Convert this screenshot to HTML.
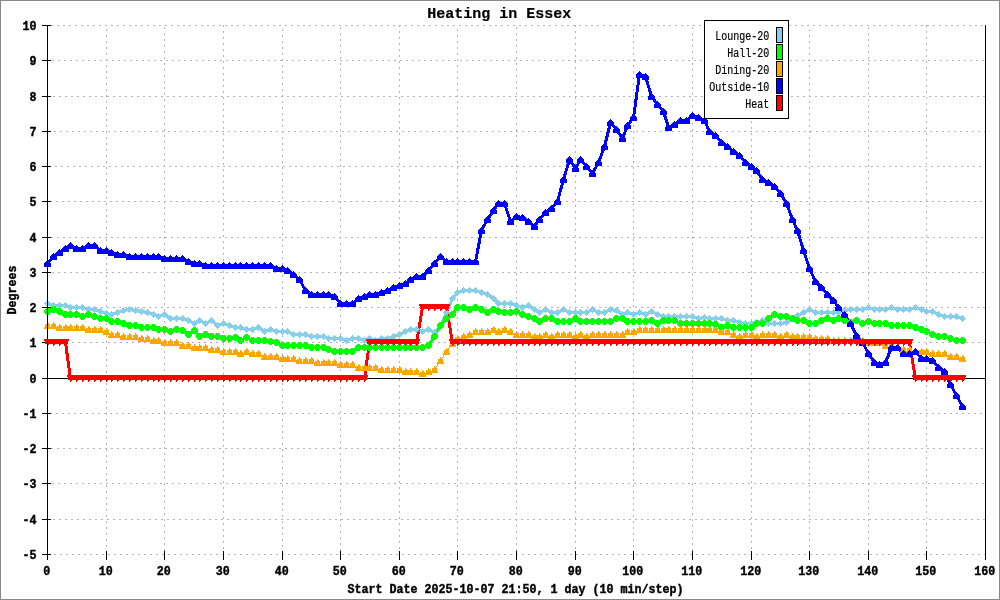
<!DOCTYPE html>
<html><head><meta charset="utf-8"><title>Heating in Essex</title>
<style>
html,body{margin:0;padding:0;background:#fff}
svg{display:block}
text{font-family:"Liberation Mono",monospace;fill:#000}
.mb{font-weight:bold;font-size:12px;stroke:#000;stroke-width:.4px}
.gi{font-weight:bold;font-size:15px;stroke:#000;stroke-width:.2px}
.sm{font-size:12.3px;stroke:#000;stroke-width:.2px}
</style></head><body>
<svg width="1000" height="600" viewBox="0 0 1000 600" shape-rendering="crispEdges">
<rect x="0" y="0" width="1000" height="600" fill="#fff"/>
<rect x="0.5" y="0.5" width="999" height="599" fill="none" stroke="#888" stroke-width="1"/>
<g stroke="#b3b3b3" stroke-width="1" stroke-dasharray="2 4"><line x1="51" x2="985" y1="25.5" y2="25.5"/><line x1="46" x2="985" y1="60.5" y2="60.5"/><line x1="47" x2="985" y1="96.5" y2="96.5"/><line x1="48" x2="985" y1="131.5" y2="131.5"/><line x1="49" x2="985" y1="166.5" y2="166.5"/><line x1="50" x2="985" y1="201.5" y2="201.5"/><line x1="51" x2="985" y1="237.5" y2="237.5"/><line x1="46" x2="985" y1="272.5" y2="272.5"/><line x1="47" x2="985" y1="307.5" y2="307.5"/><line x1="48" x2="985" y1="342.5" y2="342.5"/><line x1="50" x2="985" y1="413.5" y2="413.5"/><line x1="51" x2="985" y1="448.5" y2="448.5"/><line x1="46" x2="985" y1="483.5" y2="483.5"/><line x1="47" x2="985" y1="519.5" y2="519.5"/><line x1="48" x2="985" y1="554.5" y2="554.5"/><line x1="106.5" x2="106.5" y1="29" y2="555"/><line x1="164.5" x2="164.5" y1="27" y2="555"/><line x1="223.5" x2="223.5" y1="25" y2="555"/><line x1="282.5" x2="282.5" y1="29" y2="555"/><line x1="340.5" x2="340.5" y1="27" y2="555"/><line x1="399.5" x2="399.5" y1="25" y2="555"/><line x1="457.5" x2="457.5" y1="29" y2="555"/><line x1="516.5" x2="516.5" y1="27" y2="555"/><line x1="575.5" x2="575.5" y1="25" y2="555"/><line x1="633.5" x2="633.5" y1="29" y2="555"/><line x1="692.5" x2="692.5" y1="27" y2="555"/><line x1="751.5" x2="751.5" y1="25" y2="555"/><line x1="809.5" x2="809.5" y1="29" y2="555"/><line x1="868.5" x2="868.5" y1="27" y2="555"/><line x1="926.5" x2="926.5" y1="25" y2="555"/></g>
<path fill="#000" d="M42 554h9v1h-9zM42 519h9v1h-9zM42 483h9v1h-9zM42 448h9v1h-9zM42 413h9v1h-9zM42 378h9v1h-9zM42 342h9v1h-9zM42 307h9v1h-9zM42 272h9v1h-9zM42 237h9v1h-9zM42 201h9v1h-9zM42 166h9v1h-9zM42 131h9v1h-9zM42 96h9v1h-9zM42 60h9v1h-9zM42 25h9v1h-9zM47 551h1v9h-1zM106 551h1v9h-1zM164 551h1v9h-1zM223 551h1v9h-1zM282 551h1v9h-1zM340 551h1v9h-1zM399 551h1v9h-1zM457 551h1v9h-1zM516 551h1v9h-1zM575 551h1v9h-1zM633 551h1v9h-1zM692 551h1v9h-1zM751 551h1v9h-1zM809 551h1v9h-1zM868 551h1v9h-1zM926 551h1v9h-1zM985 551h1v9h-1zM47 378h939v1h-939z"/>
<polyline points="47.5,303.5 53.5,305.5 59.5,305.5 65.5,305.5 70.5,307.5 76.5,307.5 82.5,307.5 88.5,309.5 94.5,309.5 100.5,311.5 106.5,313.5 111.5,314.5 117.5,312.5 123.5,310.5 129.5,309.5 135.5,310.5 141.5,311.5 147.5,312.5 153.5,314.5 158.5,316.5 164.5,314.5 170.5,318.5 176.5,318.5 182.5,318.5 188.5,320.5 194.5,323.5 199.5,320.5 205.5,323.5 211.5,320.5 217.5,325.5 223.5,323.5 229.5,325.5 235.5,327.5 240.5,327.5 246.5,329.5 252.5,329.5 258.5,327.5 264.5,331.5 270.5,329.5 276.5,331.5 282.5,331.5 287.5,331.5 293.5,334.5 299.5,334.5 305.5,334.5 311.5,336.5 317.5,336.5 323.5,336.5 328.5,338.5 334.5,338.5 340.5,338.5 346.5,340.5 352.5,338.5 358.5,338.5 364.5,340.5 369.5,338.5 375.5,340.5 381.5,338.5 387.5,338.5 393.5,336.5 399.5,334.5 405.5,331.5 410.5,329.5 416.5,329.5 422.5,331.5 428.5,329.5 434.5,332.5 440.5,326.5 446.5,312.5 452.5,298.5 457.5,292.5 463.5,290.5 469.5,290.5 475.5,290.5 481.5,292.5 487.5,294.5 493.5,298.5 498.5,303.5 504.5,303.5 510.5,303.5 516.5,305.5 522.5,307.5 528.5,305.5 534.5,309.5 539.5,312.5 545.5,309.5 551.5,312.5 557.5,312.5 563.5,309.5 569.5,312.5 575.5,312.5 580.5,312.5 586.5,312.5 592.5,309.5 598.5,312.5 604.5,312.5 610.5,309.5 616.5,310.5 622.5,314.5 627.5,312.5 633.5,314.5 639.5,312.5 645.5,314.5 651.5,311.5 657.5,314.5 663.5,316.5 668.5,316.5 674.5,316.5 680.5,316.5 686.5,316.5 692.5,316.5 698.5,318.5 704.5,317.5 709.5,318.5 715.5,318.5 721.5,318.5 727.5,320.5 733.5,320.5 739.5,322.5 745.5,323.5 751.5,323.5 756.5,322.5 762.5,320.5 768.5,323.5 774.5,323.5 780.5,323.5 786.5,322.5 792.5,318.5 797.5,315.5 803.5,312.5 809.5,309.5 815.5,312.5 821.5,312.5 827.5,312.5 833.5,312.5 838.5,312.5 844.5,310.5 850.5,309.5 856.5,309.5 862.5,309.5 868.5,307.5 874.5,309.5 879.5,309.5 885.5,309.5 891.5,307.5 897.5,309.5 903.5,309.5 909.5,309.5 915.5,307.5 921.5,309.5 926.5,311.5 932.5,311.5 938.5,314.5 944.5,316.5 950.5,316.5 956.5,316.5 962.5,318.5" fill="none" stroke="#87ceeb" stroke-width="3" stroke-linejoin="round"/>
<polyline points="47.5,311.5 53.5,309.5 59.5,311.5 65.5,314.5 70.5,314.5 76.5,314.5 82.5,316.5 88.5,314.5 94.5,316.5 100.5,318.5 106.5,318.5 111.5,321.5 117.5,321.5 123.5,323.5 129.5,325.5 135.5,325.5 141.5,327.5 147.5,327.5 153.5,327.5 158.5,329.5 164.5,329.5 170.5,331.5 176.5,329.5 182.5,330.5 188.5,334.5 194.5,330.5 199.5,336.5 205.5,334.5 211.5,336.5 217.5,336.5 223.5,338.5 229.5,338.5 235.5,337.5 240.5,340.5 246.5,337.5 252.5,340.5 258.5,340.5 264.5,340.5 270.5,341.5 276.5,342.5 282.5,345.5 287.5,345.5 293.5,345.5 299.5,345.5 305.5,345.5 311.5,347.5 317.5,347.5 323.5,347.5 328.5,349.5 334.5,351.5 340.5,351.5 346.5,351.5 352.5,351.5 358.5,347.5 364.5,347.5 369.5,347.5 375.5,347.5 381.5,347.5 387.5,347.5 393.5,347.5 399.5,347.5 405.5,347.5 410.5,347.5 416.5,347.5 422.5,347.5 428.5,345.5 434.5,336.5 440.5,325.5 446.5,318.5 452.5,314.5 457.5,307.5 463.5,307.5 469.5,309.5 475.5,307.5 481.5,309.5 487.5,312.5 493.5,309.5 498.5,311.5 504.5,312.5 510.5,312.5 516.5,311.5 522.5,314.5 528.5,316.5 534.5,318.5 539.5,321.5 545.5,318.5 551.5,318.5 557.5,321.5 563.5,321.5 569.5,321.5 575.5,318.5 580.5,321.5 586.5,321.5 592.5,321.5 598.5,321.5 604.5,321.5 610.5,321.5 616.5,318.5 622.5,318.5 627.5,321.5 633.5,321.5 639.5,321.5 645.5,321.5 651.5,320.5 657.5,323.5 663.5,320.5 668.5,320.5 674.5,320.5 680.5,323.5 686.5,323.5 692.5,323.5 698.5,323.5 704.5,323.5 709.5,323.5 715.5,324.5 721.5,327.5 727.5,325.5 733.5,327.5 739.5,327.5 745.5,327.5 751.5,327.5 756.5,323.5 762.5,323.5 768.5,318.5 774.5,314.5 780.5,316.5 786.5,316.5 792.5,318.5 797.5,320.5 803.5,320.5 809.5,323.5 815.5,323.5 821.5,320.5 827.5,318.5 833.5,320.5 838.5,318.5 844.5,320.5 850.5,322.5 856.5,320.5 862.5,323.5 868.5,321.5 874.5,323.5 879.5,323.5 885.5,323.5 891.5,325.5 897.5,325.5 903.5,325.5 909.5,325.5 915.5,327.5 921.5,329.5 926.5,331.5 932.5,334.5 938.5,336.5 944.5,336.5 950.5,338.5 956.5,340.5 962.5,340.5" fill="none" stroke="#00ff00" stroke-width="3" stroke-linejoin="round"/>
<path d="M434.5 369.5L440.5 360.5M440.5 360.5L446.5 351.5M446.5 351.5L452.5 343.5M452.5 343.5L457.5 338.5" fill="none" stroke="#ffa500" stroke-width="1"/>
<polyline points="47.5,263.5 53.5,256.5 59.5,252.5 65.5,248.5 70.5,245.5 76.5,248.5 82.5,248.5 88.5,245.5 94.5,245.5 100.5,250.5 106.5,250.5 111.5,252.5 117.5,254.5 123.5,254.5 129.5,256.5 135.5,256.5 141.5,256.5 147.5,256.5 153.5,256.5 158.5,256.5 164.5,258.5 170.5,258.5 176.5,258.5 182.5,258.5 188.5,261.5 194.5,263.5 199.5,263.5 205.5,265.5 211.5,265.5 217.5,265.5 223.5,265.5 229.5,265.5 235.5,265.5 240.5,265.5 246.5,265.5 252.5,265.5 258.5,265.5 264.5,265.5 270.5,265.5 276.5,268.5 282.5,268.5 287.5,270.5 293.5,274.5 299.5,279.5 305.5,290.5 311.5,294.5 317.5,294.5 323.5,294.5 328.5,294.5 334.5,296.5 340.5,303.5 346.5,303.5 352.5,303.5 358.5,298.5 364.5,296.5 369.5,294.5 375.5,294.5 381.5,292.5 387.5,290.5 393.5,287.5 399.5,285.5 405.5,283.5 410.5,279.5 416.5,276.5 422.5,276.5 428.5,270.5 434.5,263.5 440.5,256.5 446.5,261.5 452.5,261.5 457.5,261.5 463.5,261.5 469.5,261.5 475.5,261.5 481.5,230.5 487.5,219.5 493.5,210.5 498.5,203.5 504.5,203.5 510.5,221.5 516.5,216.5 522.5,217.5 528.5,221.5 534.5,226.5 539.5,219.5 545.5,212.5 551.5,208.5 557.5,201.5 563.5,179.5 569.5,159.5 575.5,168.5 580.5,159.5 586.5,166.5 592.5,173.5 598.5,162.5 604.5,146.5 610.5,122.5 616.5,129.5 622.5,138.5 627.5,125.5 633.5,117.5 639.5,74.5 645.5,76.5 651.5,96.5 657.5,104.5 663.5,111.5 668.5,127.5 674.5,124.5 680.5,120.5 686.5,120.5 692.5,115.5 698.5,117.5 704.5,120.5 709.5,131.5 715.5,135.5 721.5,142.5 727.5,146.5 733.5,151.5 739.5,155.5 745.5,162.5 751.5,166.5 756.5,170.5 762.5,179.5 768.5,182.5 774.5,186.5 780.5,193.5 786.5,203.5 792.5,219.5 797.5,230.5 803.5,250.5 809.5,268.5 815.5,281.5 821.5,287.5 827.5,294.5 833.5,300.5 838.5,307.5 844.5,314.5 850.5,323.5 856.5,335.5 862.5,342.5 868.5,353.5 874.5,362.5 879.5,364.5 885.5,362.5 891.5,347.5 897.5,347.5 903.5,353.5 909.5,353.5 915.5,351.5 921.5,358.5 926.5,358.5 932.5,360.5 938.5,367.5 944.5,371.5 950.5,384.5 956.5,395.5 962.5,406.5" fill="none" stroke="#0000ff" stroke-width="3" stroke-linejoin="round"/>
<polyline points="47.5,342.5 53.5,342.5 59.5,342.5 65.5,342.5 70.5,378.5 76.5,378.5 82.5,378.5 88.5,378.5 94.5,378.5 100.5,378.5 106.5,378.5 111.5,378.5 117.5,378.5 123.5,378.5 129.5,378.5 135.5,378.5 141.5,378.5 147.5,378.5 153.5,378.5 158.5,378.5 164.5,378.5 170.5,378.5 176.5,378.5 182.5,378.5 188.5,378.5 194.5,378.5 199.5,378.5 205.5,378.5 211.5,378.5 217.5,378.5 223.5,378.5 229.5,378.5 235.5,378.5 240.5,378.5 246.5,378.5 252.5,378.5 258.5,378.5 264.5,378.5 270.5,378.5 276.5,378.5 282.5,378.5 287.5,378.5 293.5,378.5 299.5,378.5 305.5,378.5 311.5,378.5 317.5,378.5 323.5,378.5 328.5,378.5 334.5,378.5 340.5,378.5 346.5,378.5 352.5,378.5 358.5,378.5 364.5,378.5 369.5,342.5 375.5,342.5 381.5,342.5 387.5,342.5 393.5,342.5 399.5,342.5 405.5,342.5 410.5,342.5 416.5,342.5 422.5,307.5 428.5,307.5 434.5,307.5 440.5,307.5 446.5,307.5 452.5,342.5 457.5,342.5 463.5,342.5 469.5,342.5 475.5,342.5 481.5,342.5 487.5,342.5 493.5,342.5 498.5,342.5 504.5,342.5 510.5,342.5 516.5,342.5 522.5,342.5 528.5,342.5 534.5,342.5 539.5,342.5 545.5,342.5 551.5,342.5 557.5,342.5 563.5,342.5 569.5,342.5 575.5,342.5 580.5,342.5 586.5,342.5 592.5,342.5 598.5,342.5 604.5,342.5 610.5,342.5 616.5,342.5 622.5,342.5 627.5,342.5 633.5,342.5 639.5,342.5 645.5,342.5 651.5,342.5 657.5,342.5 663.5,342.5 668.5,342.5 674.5,342.5 680.5,342.5 686.5,342.5 692.5,342.5 698.5,342.5 704.5,342.5 709.5,342.5 715.5,342.5 721.5,342.5 727.5,342.5 733.5,342.5 739.5,342.5 745.5,342.5 751.5,342.5 756.5,342.5 762.5,342.5 768.5,342.5 774.5,342.5 780.5,342.5 786.5,342.5 792.5,342.5 797.5,342.5 803.5,342.5 809.5,342.5 815.5,342.5 821.5,342.5 827.5,342.5 833.5,342.5 838.5,342.5 844.5,342.5 850.5,342.5 856.5,342.5 862.5,342.5 868.5,342.5 874.5,342.5 879.5,342.5 885.5,342.5 891.5,342.5 897.5,342.5 903.5,342.5 909.5,342.5 915.5,378.5 921.5,378.5 926.5,378.5 932.5,378.5 938.5,378.5 944.5,378.5 950.5,378.5 956.5,378.5 962.5,378.5" fill="none" stroke="#ff0000" stroke-width="3" stroke-linejoin="round"/>
<path fill="#87ceeb" d="M47 300h1v1h-1zM46 301h3v1h-3zM45 302h5v1h-5zM44 303h7v1h-7zM45 304h5v1h-5zM46 305h3v1h-3zM47 306h1v1h-1zM53 302h1v1h-1zM52 303h3v1h-3zM51 304h5v1h-5zM50 305h7v1h-7zM51 306h5v1h-5zM52 307h3v1h-3zM53 308h1v1h-1zM59 302h1v1h-1zM58 303h3v1h-3zM57 304h5v1h-5zM56 305h7v1h-7zM57 306h5v1h-5zM58 307h3v1h-3zM59 308h1v1h-1zM65 302h1v1h-1zM64 303h3v1h-3zM63 304h5v1h-5zM62 305h7v1h-7zM63 306h5v1h-5zM64 307h3v1h-3zM65 308h1v1h-1zM70 304h1v1h-1zM69 305h3v1h-3zM68 306h5v1h-5zM67 307h7v1h-7zM68 308h5v1h-5zM69 309h3v1h-3zM70 310h1v1h-1zM76 304h1v1h-1zM75 305h3v1h-3zM74 306h5v1h-5zM73 307h7v1h-7zM74 308h5v1h-5zM75 309h3v1h-3zM76 310h1v1h-1zM82 304h1v1h-1zM81 305h3v1h-3zM80 306h5v1h-5zM79 307h7v1h-7zM80 308h5v1h-5zM81 309h3v1h-3zM82 310h1v1h-1zM88 306h1v1h-1zM87 307h3v1h-3zM86 308h5v1h-5zM85 309h7v1h-7zM86 310h5v1h-5zM87 311h3v1h-3zM88 312h1v1h-1zM94 306h1v1h-1zM93 307h3v1h-3zM92 308h5v1h-5zM91 309h7v1h-7zM92 310h5v1h-5zM93 311h3v1h-3zM94 312h1v1h-1zM100 308h1v1h-1zM99 309h3v1h-3zM98 310h5v1h-5zM97 311h7v1h-7zM98 312h5v1h-5zM99 313h3v1h-3zM100 314h1v1h-1zM106 310h1v1h-1zM105 311h3v1h-3zM104 312h5v1h-5zM103 313h7v1h-7zM104 314h5v1h-5zM105 315h3v1h-3zM106 316h1v1h-1zM111 311h1v1h-1zM110 312h3v1h-3zM109 313h5v1h-5zM108 314h7v1h-7zM109 315h5v1h-5zM110 316h3v1h-3zM111 317h1v1h-1zM117 309h1v1h-1zM116 310h3v1h-3zM115 311h5v1h-5zM114 312h7v1h-7zM115 313h5v1h-5zM116 314h3v1h-3zM117 315h1v1h-1zM123 307h1v1h-1zM122 308h3v1h-3zM121 309h5v1h-5zM120 310h7v1h-7zM121 311h5v1h-5zM122 312h3v1h-3zM123 313h1v1h-1zM129 306h1v1h-1zM128 307h3v1h-3zM127 308h5v1h-5zM126 309h7v1h-7zM127 310h5v1h-5zM128 311h3v1h-3zM129 312h1v1h-1zM135 307h1v1h-1zM134 308h3v1h-3zM133 309h5v1h-5zM132 310h7v1h-7zM133 311h5v1h-5zM134 312h3v1h-3zM135 313h1v1h-1zM141 308h1v1h-1zM140 309h3v1h-3zM139 310h5v1h-5zM138 311h7v1h-7zM139 312h5v1h-5zM140 313h3v1h-3zM141 314h1v1h-1zM147 309h1v1h-1zM146 310h3v1h-3zM145 311h5v1h-5zM144 312h7v1h-7zM145 313h5v1h-5zM146 314h3v1h-3zM147 315h1v1h-1zM153 311h1v1h-1zM152 312h3v1h-3zM151 313h5v1h-5zM150 314h7v1h-7zM151 315h5v1h-5zM152 316h3v1h-3zM153 317h1v1h-1zM158 313h1v1h-1zM157 314h3v1h-3zM156 315h5v1h-5zM155 316h7v1h-7zM156 317h5v1h-5zM157 318h3v1h-3zM158 319h1v1h-1zM164 311h1v1h-1zM163 312h3v1h-3zM162 313h5v1h-5zM161 314h7v1h-7zM162 315h5v1h-5zM163 316h3v1h-3zM164 317h1v1h-1zM170 315h1v1h-1zM169 316h3v1h-3zM168 317h5v1h-5zM167 318h7v1h-7zM168 319h5v1h-5zM169 320h3v1h-3zM170 321h1v1h-1zM176 315h1v1h-1zM175 316h3v1h-3zM174 317h5v1h-5zM173 318h7v1h-7zM174 319h5v1h-5zM175 320h3v1h-3zM176 321h1v1h-1zM182 315h1v1h-1zM181 316h3v1h-3zM180 317h5v1h-5zM179 318h7v1h-7zM180 319h5v1h-5zM181 320h3v1h-3zM182 321h1v1h-1zM188 317h1v1h-1zM187 318h3v1h-3zM186 319h5v1h-5zM185 320h7v1h-7zM186 321h5v1h-5zM187 322h3v1h-3zM188 323h1v1h-1zM194 320h1v1h-1zM193 321h3v1h-3zM192 322h5v1h-5zM191 323h7v1h-7zM192 324h5v1h-5zM193 325h3v1h-3zM194 326h1v1h-1zM199 317h1v1h-1zM198 318h3v1h-3zM197 319h5v1h-5zM196 320h7v1h-7zM197 321h5v1h-5zM198 322h3v1h-3zM199 323h1v1h-1zM205 320h1v1h-1zM204 321h3v1h-3zM203 322h5v1h-5zM202 323h7v1h-7zM203 324h5v1h-5zM204 325h3v1h-3zM205 326h1v1h-1zM211 317h1v1h-1zM210 318h3v1h-3zM209 319h5v1h-5zM208 320h7v1h-7zM209 321h5v1h-5zM210 322h3v1h-3zM211 323h1v1h-1zM217 322h1v1h-1zM216 323h3v1h-3zM215 324h5v1h-5zM214 325h7v1h-7zM215 326h5v1h-5zM216 327h3v1h-3zM217 328h1v1h-1zM223 320h1v1h-1zM222 321h3v1h-3zM221 322h5v1h-5zM220 323h7v1h-7zM221 324h5v1h-5zM222 325h3v1h-3zM223 326h1v1h-1zM229 322h1v1h-1zM228 323h3v1h-3zM227 324h5v1h-5zM226 325h7v1h-7zM227 326h5v1h-5zM228 327h3v1h-3zM229 328h1v1h-1zM235 324h1v1h-1zM234 325h3v1h-3zM233 326h5v1h-5zM232 327h7v1h-7zM233 328h5v1h-5zM234 329h3v1h-3zM235 330h1v1h-1zM240 324h1v1h-1zM239 325h3v1h-3zM238 326h5v1h-5zM237 327h7v1h-7zM238 328h5v1h-5zM239 329h3v1h-3zM240 330h1v1h-1zM246 326h1v1h-1zM245 327h3v1h-3zM244 328h5v1h-5zM243 329h7v1h-7zM244 330h5v1h-5zM245 331h3v1h-3zM246 332h1v1h-1zM252 326h1v1h-1zM251 327h3v1h-3zM250 328h5v1h-5zM249 329h7v1h-7zM250 330h5v1h-5zM251 331h3v1h-3zM252 332h1v1h-1zM258 324h1v1h-1zM257 325h3v1h-3zM256 326h5v1h-5zM255 327h7v1h-7zM256 328h5v1h-5zM257 329h3v1h-3zM258 330h1v1h-1zM264 328h1v1h-1zM263 329h3v1h-3zM262 330h5v1h-5zM261 331h7v1h-7zM262 332h5v1h-5zM263 333h3v1h-3zM264 334h1v1h-1zM270 326h1v1h-1zM269 327h3v1h-3zM268 328h5v1h-5zM267 329h7v1h-7zM268 330h5v1h-5zM269 331h3v1h-3zM270 332h1v1h-1zM276 328h1v1h-1zM275 329h3v1h-3zM274 330h5v1h-5zM273 331h7v1h-7zM274 332h5v1h-5zM275 333h3v1h-3zM276 334h1v1h-1zM282 328h1v1h-1zM281 329h3v1h-3zM280 330h5v1h-5zM279 331h7v1h-7zM280 332h5v1h-5zM281 333h3v1h-3zM282 334h1v1h-1zM287 328h1v1h-1zM286 329h3v1h-3zM285 330h5v1h-5zM284 331h7v1h-7zM285 332h5v1h-5zM286 333h3v1h-3zM287 334h1v1h-1zM293 331h1v1h-1zM292 332h3v1h-3zM291 333h5v1h-5zM290 334h7v1h-7zM291 335h5v1h-5zM292 336h3v1h-3zM293 337h1v1h-1zM299 331h1v1h-1zM298 332h3v1h-3zM297 333h5v1h-5zM296 334h7v1h-7zM297 335h5v1h-5zM298 336h3v1h-3zM299 337h1v1h-1zM305 331h1v1h-1zM304 332h3v1h-3zM303 333h5v1h-5zM302 334h7v1h-7zM303 335h5v1h-5zM304 336h3v1h-3zM305 337h1v1h-1zM311 333h1v1h-1zM310 334h3v1h-3zM309 335h5v1h-5zM308 336h7v1h-7zM309 337h5v1h-5zM310 338h3v1h-3zM311 339h1v1h-1zM317 333h1v1h-1zM316 334h3v1h-3zM315 335h5v1h-5zM314 336h7v1h-7zM315 337h5v1h-5zM316 338h3v1h-3zM317 339h1v1h-1zM323 333h1v1h-1zM322 334h3v1h-3zM321 335h5v1h-5zM320 336h7v1h-7zM321 337h5v1h-5zM322 338h3v1h-3zM323 339h1v1h-1zM328 335h1v1h-1zM327 336h3v1h-3zM326 337h5v1h-5zM325 338h7v1h-7zM326 339h5v1h-5zM327 340h3v1h-3zM328 341h1v1h-1zM334 335h1v1h-1zM333 336h3v1h-3zM332 337h5v1h-5zM331 338h7v1h-7zM332 339h5v1h-5zM333 340h3v1h-3zM334 341h1v1h-1zM340 335h1v1h-1zM339 336h3v1h-3zM338 337h5v1h-5zM337 338h7v1h-7zM338 339h5v1h-5zM339 340h3v1h-3zM340 341h1v1h-1zM346 337h1v1h-1zM345 338h3v1h-3zM344 339h5v1h-5zM343 340h7v1h-7zM344 341h5v1h-5zM345 342h3v1h-3zM346 343h1v1h-1zM352 335h1v1h-1zM351 336h3v1h-3zM350 337h5v1h-5zM349 338h7v1h-7zM350 339h5v1h-5zM351 340h3v1h-3zM352 341h1v1h-1zM358 335h1v1h-1zM357 336h3v1h-3zM356 337h5v1h-5zM355 338h7v1h-7zM356 339h5v1h-5zM357 340h3v1h-3zM358 341h1v1h-1zM364 337h1v1h-1zM363 338h3v1h-3zM362 339h5v1h-5zM361 340h7v1h-7zM362 341h5v1h-5zM363 342h3v1h-3zM364 343h1v1h-1zM369 335h1v1h-1zM368 336h3v1h-3zM367 337h5v1h-5zM366 338h7v1h-7zM367 339h5v1h-5zM368 340h3v1h-3zM369 341h1v1h-1zM375 337h1v1h-1zM374 338h3v1h-3zM373 339h5v1h-5zM372 340h7v1h-7zM373 341h5v1h-5zM374 342h3v1h-3zM375 343h1v1h-1zM381 335h1v1h-1zM380 336h3v1h-3zM379 337h5v1h-5zM378 338h7v1h-7zM379 339h5v1h-5zM380 340h3v1h-3zM381 341h1v1h-1zM387 335h1v1h-1zM386 336h3v1h-3zM385 337h5v1h-5zM384 338h7v1h-7zM385 339h5v1h-5zM386 340h3v1h-3zM387 341h1v1h-1zM393 333h1v1h-1zM392 334h3v1h-3zM391 335h5v1h-5zM390 336h7v1h-7zM391 337h5v1h-5zM392 338h3v1h-3zM393 339h1v1h-1zM399 331h1v1h-1zM398 332h3v1h-3zM397 333h5v1h-5zM396 334h7v1h-7zM397 335h5v1h-5zM398 336h3v1h-3zM399 337h1v1h-1zM405 328h1v1h-1zM404 329h3v1h-3zM403 330h5v1h-5zM402 331h7v1h-7zM403 332h5v1h-5zM404 333h3v1h-3zM405 334h1v1h-1zM410 326h1v1h-1zM409 327h3v1h-3zM408 328h5v1h-5zM407 329h7v1h-7zM408 330h5v1h-5zM409 331h3v1h-3zM410 332h1v1h-1zM416 326h1v1h-1zM415 327h3v1h-3zM414 328h5v1h-5zM413 329h7v1h-7zM414 330h5v1h-5zM415 331h3v1h-3zM416 332h1v1h-1zM422 328h1v1h-1zM421 329h3v1h-3zM420 330h5v1h-5zM419 331h7v1h-7zM420 332h5v1h-5zM421 333h3v1h-3zM422 334h1v1h-1zM428 326h1v1h-1zM427 327h3v1h-3zM426 328h5v1h-5zM425 329h7v1h-7zM426 330h5v1h-5zM427 331h3v1h-3zM428 332h1v1h-1zM434 329h1v1h-1zM433 330h3v1h-3zM432 331h5v1h-5zM431 332h7v1h-7zM432 333h5v1h-5zM433 334h3v1h-3zM434 335h1v1h-1zM440 323h1v1h-1zM439 324h3v1h-3zM438 325h5v1h-5zM437 326h7v1h-7zM438 327h5v1h-5zM439 328h3v1h-3zM440 329h1v1h-1zM446 309h1v1h-1zM445 310h3v1h-3zM444 311h5v1h-5zM443 312h7v1h-7zM444 313h5v1h-5zM445 314h3v1h-3zM446 315h1v1h-1zM452 295h1v1h-1zM451 296h3v1h-3zM450 297h5v1h-5zM449 298h7v1h-7zM450 299h5v1h-5zM451 300h3v1h-3zM452 301h1v1h-1zM457 289h1v1h-1zM456 290h3v1h-3zM455 291h5v1h-5zM454 292h7v1h-7zM455 293h5v1h-5zM456 294h3v1h-3zM457 295h1v1h-1zM463 287h1v1h-1zM462 288h3v1h-3zM461 289h5v1h-5zM460 290h7v1h-7zM461 291h5v1h-5zM462 292h3v1h-3zM463 293h1v1h-1zM469 287h1v1h-1zM468 288h3v1h-3zM467 289h5v1h-5zM466 290h7v1h-7zM467 291h5v1h-5zM468 292h3v1h-3zM469 293h1v1h-1zM475 287h1v1h-1zM474 288h3v1h-3zM473 289h5v1h-5zM472 290h7v1h-7zM473 291h5v1h-5zM474 292h3v1h-3zM475 293h1v1h-1zM481 289h1v1h-1zM480 290h3v1h-3zM479 291h5v1h-5zM478 292h7v1h-7zM479 293h5v1h-5zM480 294h3v1h-3zM481 295h1v1h-1zM487 291h1v1h-1zM486 292h3v1h-3zM485 293h5v1h-5zM484 294h7v1h-7zM485 295h5v1h-5zM486 296h3v1h-3zM487 297h1v1h-1zM493 295h1v1h-1zM492 296h3v1h-3zM491 297h5v1h-5zM490 298h7v1h-7zM491 299h5v1h-5zM492 300h3v1h-3zM493 301h1v1h-1zM498 300h1v1h-1zM497 301h3v1h-3zM496 302h5v1h-5zM495 303h7v1h-7zM496 304h5v1h-5zM497 305h3v1h-3zM498 306h1v1h-1zM504 300h1v1h-1zM503 301h3v1h-3zM502 302h5v1h-5zM501 303h7v1h-7zM502 304h5v1h-5zM503 305h3v1h-3zM504 306h1v1h-1zM510 300h1v1h-1zM509 301h3v1h-3zM508 302h5v1h-5zM507 303h7v1h-7zM508 304h5v1h-5zM509 305h3v1h-3zM510 306h1v1h-1zM516 302h1v1h-1zM515 303h3v1h-3zM514 304h5v1h-5zM513 305h7v1h-7zM514 306h5v1h-5zM515 307h3v1h-3zM516 308h1v1h-1zM522 304h1v1h-1zM521 305h3v1h-3zM520 306h5v1h-5zM519 307h7v1h-7zM520 308h5v1h-5zM521 309h3v1h-3zM522 310h1v1h-1zM528 302h1v1h-1zM527 303h3v1h-3zM526 304h5v1h-5zM525 305h7v1h-7zM526 306h5v1h-5zM527 307h3v1h-3zM528 308h1v1h-1zM534 306h1v1h-1zM533 307h3v1h-3zM532 308h5v1h-5zM531 309h7v1h-7zM532 310h5v1h-5zM533 311h3v1h-3zM534 312h1v1h-1zM539 309h1v1h-1zM538 310h3v1h-3zM537 311h5v1h-5zM536 312h7v1h-7zM537 313h5v1h-5zM538 314h3v1h-3zM539 315h1v1h-1zM545 306h1v1h-1zM544 307h3v1h-3zM543 308h5v1h-5zM542 309h7v1h-7zM543 310h5v1h-5zM544 311h3v1h-3zM545 312h1v1h-1zM551 309h1v1h-1zM550 310h3v1h-3zM549 311h5v1h-5zM548 312h7v1h-7zM549 313h5v1h-5zM550 314h3v1h-3zM551 315h1v1h-1zM557 309h1v1h-1zM556 310h3v1h-3zM555 311h5v1h-5zM554 312h7v1h-7zM555 313h5v1h-5zM556 314h3v1h-3zM557 315h1v1h-1zM563 306h1v1h-1zM562 307h3v1h-3zM561 308h5v1h-5zM560 309h7v1h-7zM561 310h5v1h-5zM562 311h3v1h-3zM563 312h1v1h-1zM569 309h1v1h-1zM568 310h3v1h-3zM567 311h5v1h-5zM566 312h7v1h-7zM567 313h5v1h-5zM568 314h3v1h-3zM569 315h1v1h-1zM575 309h1v1h-1zM574 310h3v1h-3zM573 311h5v1h-5zM572 312h7v1h-7zM573 313h5v1h-5zM574 314h3v1h-3zM575 315h1v1h-1zM580 309h1v1h-1zM579 310h3v1h-3zM578 311h5v1h-5zM577 312h7v1h-7zM578 313h5v1h-5zM579 314h3v1h-3zM580 315h1v1h-1zM586 309h1v1h-1zM585 310h3v1h-3zM584 311h5v1h-5zM583 312h7v1h-7zM584 313h5v1h-5zM585 314h3v1h-3zM586 315h1v1h-1zM592 306h1v1h-1zM591 307h3v1h-3zM590 308h5v1h-5zM589 309h7v1h-7zM590 310h5v1h-5zM591 311h3v1h-3zM592 312h1v1h-1zM598 309h1v1h-1zM597 310h3v1h-3zM596 311h5v1h-5zM595 312h7v1h-7zM596 313h5v1h-5zM597 314h3v1h-3zM598 315h1v1h-1zM604 309h1v1h-1zM603 310h3v1h-3zM602 311h5v1h-5zM601 312h7v1h-7zM602 313h5v1h-5zM603 314h3v1h-3zM604 315h1v1h-1zM610 306h1v1h-1zM609 307h3v1h-3zM608 308h5v1h-5zM607 309h7v1h-7zM608 310h5v1h-5zM609 311h3v1h-3zM610 312h1v1h-1zM616 307h1v1h-1zM615 308h3v1h-3zM614 309h5v1h-5zM613 310h7v1h-7zM614 311h5v1h-5zM615 312h3v1h-3zM616 313h1v1h-1zM622 311h1v1h-1zM621 312h3v1h-3zM620 313h5v1h-5zM619 314h7v1h-7zM620 315h5v1h-5zM621 316h3v1h-3zM622 317h1v1h-1zM627 309h1v1h-1zM626 310h3v1h-3zM625 311h5v1h-5zM624 312h7v1h-7zM625 313h5v1h-5zM626 314h3v1h-3zM627 315h1v1h-1zM633 311h1v1h-1zM632 312h3v1h-3zM631 313h5v1h-5zM630 314h7v1h-7zM631 315h5v1h-5zM632 316h3v1h-3zM633 317h1v1h-1zM639 309h1v1h-1zM638 310h3v1h-3zM637 311h5v1h-5zM636 312h7v1h-7zM637 313h5v1h-5zM638 314h3v1h-3zM639 315h1v1h-1zM645 311h1v1h-1zM644 312h3v1h-3zM643 313h5v1h-5zM642 314h7v1h-7zM643 315h5v1h-5zM644 316h3v1h-3zM645 317h1v1h-1zM651 308h1v1h-1zM650 309h3v1h-3zM649 310h5v1h-5zM648 311h7v1h-7zM649 312h5v1h-5zM650 313h3v1h-3zM651 314h1v1h-1zM657 311h1v1h-1zM656 312h3v1h-3zM655 313h5v1h-5zM654 314h7v1h-7zM655 315h5v1h-5zM656 316h3v1h-3zM657 317h1v1h-1zM663 313h1v1h-1zM662 314h3v1h-3zM661 315h5v1h-5zM660 316h7v1h-7zM661 317h5v1h-5zM662 318h3v1h-3zM663 319h1v1h-1zM668 313h1v1h-1zM667 314h3v1h-3zM666 315h5v1h-5zM665 316h7v1h-7zM666 317h5v1h-5zM667 318h3v1h-3zM668 319h1v1h-1zM674 313h1v1h-1zM673 314h3v1h-3zM672 315h5v1h-5zM671 316h7v1h-7zM672 317h5v1h-5zM673 318h3v1h-3zM674 319h1v1h-1zM680 313h1v1h-1zM679 314h3v1h-3zM678 315h5v1h-5zM677 316h7v1h-7zM678 317h5v1h-5zM679 318h3v1h-3zM680 319h1v1h-1zM686 313h1v1h-1zM685 314h3v1h-3zM684 315h5v1h-5zM683 316h7v1h-7zM684 317h5v1h-5zM685 318h3v1h-3zM686 319h1v1h-1zM692 313h1v1h-1zM691 314h3v1h-3zM690 315h5v1h-5zM689 316h7v1h-7zM690 317h5v1h-5zM691 318h3v1h-3zM692 319h1v1h-1zM698 315h1v1h-1zM697 316h3v1h-3zM696 317h5v1h-5zM695 318h7v1h-7zM696 319h5v1h-5zM697 320h3v1h-3zM698 321h1v1h-1zM704 314h1v1h-1zM703 315h3v1h-3zM702 316h5v1h-5zM701 317h7v1h-7zM702 318h5v1h-5zM703 319h3v1h-3zM704 320h1v1h-1zM709 315h1v1h-1zM708 316h3v1h-3zM707 317h5v1h-5zM706 318h7v1h-7zM707 319h5v1h-5zM708 320h3v1h-3zM709 321h1v1h-1zM715 315h1v1h-1zM714 316h3v1h-3zM713 317h5v1h-5zM712 318h7v1h-7zM713 319h5v1h-5zM714 320h3v1h-3zM715 321h1v1h-1zM721 315h1v1h-1zM720 316h3v1h-3zM719 317h5v1h-5zM718 318h7v1h-7zM719 319h5v1h-5zM720 320h3v1h-3zM721 321h1v1h-1zM727 317h1v1h-1zM726 318h3v1h-3zM725 319h5v1h-5zM724 320h7v1h-7zM725 321h5v1h-5zM726 322h3v1h-3zM727 323h1v1h-1zM733 317h1v1h-1zM732 318h3v1h-3zM731 319h5v1h-5zM730 320h7v1h-7zM731 321h5v1h-5zM732 322h3v1h-3zM733 323h1v1h-1zM739 319h1v1h-1zM738 320h3v1h-3zM737 321h5v1h-5zM736 322h7v1h-7zM737 323h5v1h-5zM738 324h3v1h-3zM739 325h1v1h-1zM745 320h1v1h-1zM744 321h3v1h-3zM743 322h5v1h-5zM742 323h7v1h-7zM743 324h5v1h-5zM744 325h3v1h-3zM745 326h1v1h-1zM751 320h1v1h-1zM750 321h3v1h-3zM749 322h5v1h-5zM748 323h7v1h-7zM749 324h5v1h-5zM750 325h3v1h-3zM751 326h1v1h-1zM756 319h1v1h-1zM755 320h3v1h-3zM754 321h5v1h-5zM753 322h7v1h-7zM754 323h5v1h-5zM755 324h3v1h-3zM756 325h1v1h-1zM762 317h1v1h-1zM761 318h3v1h-3zM760 319h5v1h-5zM759 320h7v1h-7zM760 321h5v1h-5zM761 322h3v1h-3zM762 323h1v1h-1zM768 320h1v1h-1zM767 321h3v1h-3zM766 322h5v1h-5zM765 323h7v1h-7zM766 324h5v1h-5zM767 325h3v1h-3zM768 326h1v1h-1zM774 320h1v1h-1zM773 321h3v1h-3zM772 322h5v1h-5zM771 323h7v1h-7zM772 324h5v1h-5zM773 325h3v1h-3zM774 326h1v1h-1zM780 320h1v1h-1zM779 321h3v1h-3zM778 322h5v1h-5zM777 323h7v1h-7zM778 324h5v1h-5zM779 325h3v1h-3zM780 326h1v1h-1zM786 319h1v1h-1zM785 320h3v1h-3zM784 321h5v1h-5zM783 322h7v1h-7zM784 323h5v1h-5zM785 324h3v1h-3zM786 325h1v1h-1zM792 315h1v1h-1zM791 316h3v1h-3zM790 317h5v1h-5zM789 318h7v1h-7zM790 319h5v1h-5zM791 320h3v1h-3zM792 321h1v1h-1zM797 312h1v1h-1zM796 313h3v1h-3zM795 314h5v1h-5zM794 315h7v1h-7zM795 316h5v1h-5zM796 317h3v1h-3zM797 318h1v1h-1zM803 309h1v1h-1zM802 310h3v1h-3zM801 311h5v1h-5zM800 312h7v1h-7zM801 313h5v1h-5zM802 314h3v1h-3zM803 315h1v1h-1zM809 306h1v1h-1zM808 307h3v1h-3zM807 308h5v1h-5zM806 309h7v1h-7zM807 310h5v1h-5zM808 311h3v1h-3zM809 312h1v1h-1zM815 309h1v1h-1zM814 310h3v1h-3zM813 311h5v1h-5zM812 312h7v1h-7zM813 313h5v1h-5zM814 314h3v1h-3zM815 315h1v1h-1zM821 309h1v1h-1zM820 310h3v1h-3zM819 311h5v1h-5zM818 312h7v1h-7zM819 313h5v1h-5zM820 314h3v1h-3zM821 315h1v1h-1zM827 309h1v1h-1zM826 310h3v1h-3zM825 311h5v1h-5zM824 312h7v1h-7zM825 313h5v1h-5zM826 314h3v1h-3zM827 315h1v1h-1zM833 309h1v1h-1zM832 310h3v1h-3zM831 311h5v1h-5zM830 312h7v1h-7zM831 313h5v1h-5zM832 314h3v1h-3zM833 315h1v1h-1zM838 309h1v1h-1zM837 310h3v1h-3zM836 311h5v1h-5zM835 312h7v1h-7zM836 313h5v1h-5zM837 314h3v1h-3zM838 315h1v1h-1zM844 307h1v1h-1zM843 308h3v1h-3zM842 309h5v1h-5zM841 310h7v1h-7zM842 311h5v1h-5zM843 312h3v1h-3zM844 313h1v1h-1zM850 306h1v1h-1zM849 307h3v1h-3zM848 308h5v1h-5zM847 309h7v1h-7zM848 310h5v1h-5zM849 311h3v1h-3zM850 312h1v1h-1zM856 306h1v1h-1zM855 307h3v1h-3zM854 308h5v1h-5zM853 309h7v1h-7zM854 310h5v1h-5zM855 311h3v1h-3zM856 312h1v1h-1zM862 306h1v1h-1zM861 307h3v1h-3zM860 308h5v1h-5zM859 309h7v1h-7zM860 310h5v1h-5zM861 311h3v1h-3zM862 312h1v1h-1zM868 304h1v1h-1zM867 305h3v1h-3zM866 306h5v1h-5zM865 307h7v1h-7zM866 308h5v1h-5zM867 309h3v1h-3zM868 310h1v1h-1zM874 306h1v1h-1zM873 307h3v1h-3zM872 308h5v1h-5zM871 309h7v1h-7zM872 310h5v1h-5zM873 311h3v1h-3zM874 312h1v1h-1zM879 306h1v1h-1zM878 307h3v1h-3zM877 308h5v1h-5zM876 309h7v1h-7zM877 310h5v1h-5zM878 311h3v1h-3zM879 312h1v1h-1zM885 306h1v1h-1zM884 307h3v1h-3zM883 308h5v1h-5zM882 309h7v1h-7zM883 310h5v1h-5zM884 311h3v1h-3zM885 312h1v1h-1zM891 304h1v1h-1zM890 305h3v1h-3zM889 306h5v1h-5zM888 307h7v1h-7zM889 308h5v1h-5zM890 309h3v1h-3zM891 310h1v1h-1zM897 306h1v1h-1zM896 307h3v1h-3zM895 308h5v1h-5zM894 309h7v1h-7zM895 310h5v1h-5zM896 311h3v1h-3zM897 312h1v1h-1zM903 306h1v1h-1zM902 307h3v1h-3zM901 308h5v1h-5zM900 309h7v1h-7zM901 310h5v1h-5zM902 311h3v1h-3zM903 312h1v1h-1zM909 306h1v1h-1zM908 307h3v1h-3zM907 308h5v1h-5zM906 309h7v1h-7zM907 310h5v1h-5zM908 311h3v1h-3zM909 312h1v1h-1zM915 304h1v1h-1zM914 305h3v1h-3zM913 306h5v1h-5zM912 307h7v1h-7zM913 308h5v1h-5zM914 309h3v1h-3zM915 310h1v1h-1zM921 306h1v1h-1zM920 307h3v1h-3zM919 308h5v1h-5zM918 309h7v1h-7zM919 310h5v1h-5zM920 311h3v1h-3zM921 312h1v1h-1zM926 308h1v1h-1zM925 309h3v1h-3zM924 310h5v1h-5zM923 311h7v1h-7zM924 312h5v1h-5zM925 313h3v1h-3zM926 314h1v1h-1zM932 308h1v1h-1zM931 309h3v1h-3zM930 310h5v1h-5zM929 311h7v1h-7zM930 312h5v1h-5zM931 313h3v1h-3zM932 314h1v1h-1zM938 311h1v1h-1zM937 312h3v1h-3zM936 313h5v1h-5zM935 314h7v1h-7zM936 315h5v1h-5zM937 316h3v1h-3zM938 317h1v1h-1zM944 313h1v1h-1zM943 314h3v1h-3zM942 315h5v1h-5zM941 316h7v1h-7zM942 317h5v1h-5zM943 318h3v1h-3zM944 319h1v1h-1zM950 313h1v1h-1zM949 314h3v1h-3zM948 315h5v1h-5zM947 316h7v1h-7zM948 317h5v1h-5zM949 318h3v1h-3zM950 319h1v1h-1zM956 313h1v1h-1zM955 314h3v1h-3zM954 315h5v1h-5zM953 316h7v1h-7zM954 317h5v1h-5zM955 318h3v1h-3zM956 319h1v1h-1zM962 315h1v1h-1zM961 316h3v1h-3zM960 317h5v1h-5zM959 318h7v1h-7zM960 319h5v1h-5zM961 320h3v1h-3zM962 321h1v1h-1z"/>
<path fill="#00ff00" d="M46 308h3v1h-3zM45 309h5v1h-5zM44 310h7v1h-7zM44 311h7v1h-7zM44 312h7v1h-7zM45 313h5v1h-5zM46 314h3v1h-3zM52 306h3v1h-3zM51 307h5v1h-5zM50 308h7v1h-7zM50 309h7v1h-7zM50 310h7v1h-7zM51 311h5v1h-5zM52 312h3v1h-3zM58 308h3v1h-3zM57 309h5v1h-5zM56 310h7v1h-7zM56 311h7v1h-7zM56 312h7v1h-7zM57 313h5v1h-5zM58 314h3v1h-3zM64 311h3v1h-3zM63 312h5v1h-5zM62 313h7v1h-7zM62 314h7v1h-7zM62 315h7v1h-7zM63 316h5v1h-5zM64 317h3v1h-3zM69 311h3v1h-3zM68 312h5v1h-5zM67 313h7v1h-7zM67 314h7v1h-7zM67 315h7v1h-7zM68 316h5v1h-5zM69 317h3v1h-3zM75 311h3v1h-3zM74 312h5v1h-5zM73 313h7v1h-7zM73 314h7v1h-7zM73 315h7v1h-7zM74 316h5v1h-5zM75 317h3v1h-3zM81 313h3v1h-3zM80 314h5v1h-5zM79 315h7v1h-7zM79 316h7v1h-7zM79 317h7v1h-7zM80 318h5v1h-5zM81 319h3v1h-3zM87 311h3v1h-3zM86 312h5v1h-5zM85 313h7v1h-7zM85 314h7v1h-7zM85 315h7v1h-7zM86 316h5v1h-5zM87 317h3v1h-3zM93 313h3v1h-3zM92 314h5v1h-5zM91 315h7v1h-7zM91 316h7v1h-7zM91 317h7v1h-7zM92 318h5v1h-5zM93 319h3v1h-3zM99 315h3v1h-3zM98 316h5v1h-5zM97 317h7v1h-7zM97 318h7v1h-7zM97 319h7v1h-7zM98 320h5v1h-5zM99 321h3v1h-3zM105 315h3v1h-3zM104 316h5v1h-5zM103 317h7v1h-7zM103 318h7v1h-7zM103 319h7v1h-7zM104 320h5v1h-5zM105 321h3v1h-3zM110 318h3v1h-3zM109 319h5v1h-5zM108 320h7v1h-7zM108 321h7v1h-7zM108 322h7v1h-7zM109 323h5v1h-5zM110 324h3v1h-3zM116 318h3v1h-3zM115 319h5v1h-5zM114 320h7v1h-7zM114 321h7v1h-7zM114 322h7v1h-7zM115 323h5v1h-5zM116 324h3v1h-3zM122 320h3v1h-3zM121 321h5v1h-5zM120 322h7v1h-7zM120 323h7v1h-7zM120 324h7v1h-7zM121 325h5v1h-5zM122 326h3v1h-3zM128 322h3v1h-3zM127 323h5v1h-5zM126 324h7v1h-7zM126 325h7v1h-7zM126 326h7v1h-7zM127 327h5v1h-5zM128 328h3v1h-3zM134 322h3v1h-3zM133 323h5v1h-5zM132 324h7v1h-7zM132 325h7v1h-7zM132 326h7v1h-7zM133 327h5v1h-5zM134 328h3v1h-3zM140 324h3v1h-3zM139 325h5v1h-5zM138 326h7v1h-7zM138 327h7v1h-7zM138 328h7v1h-7zM139 329h5v1h-5zM140 330h3v1h-3zM146 324h3v1h-3zM145 325h5v1h-5zM144 326h7v1h-7zM144 327h7v1h-7zM144 328h7v1h-7zM145 329h5v1h-5zM146 330h3v1h-3zM152 324h3v1h-3zM151 325h5v1h-5zM150 326h7v1h-7zM150 327h7v1h-7zM150 328h7v1h-7zM151 329h5v1h-5zM152 330h3v1h-3zM157 326h3v1h-3zM156 327h5v1h-5zM155 328h7v1h-7zM155 329h7v1h-7zM155 330h7v1h-7zM156 331h5v1h-5zM157 332h3v1h-3zM163 326h3v1h-3zM162 327h5v1h-5zM161 328h7v1h-7zM161 329h7v1h-7zM161 330h7v1h-7zM162 331h5v1h-5zM163 332h3v1h-3zM169 328h3v1h-3zM168 329h5v1h-5zM167 330h7v1h-7zM167 331h7v1h-7zM167 332h7v1h-7zM168 333h5v1h-5zM169 334h3v1h-3zM175 326h3v1h-3zM174 327h5v1h-5zM173 328h7v1h-7zM173 329h7v1h-7zM173 330h7v1h-7zM174 331h5v1h-5zM175 332h3v1h-3zM181 327h3v1h-3zM180 328h5v1h-5zM179 329h7v1h-7zM179 330h7v1h-7zM179 331h7v1h-7zM180 332h5v1h-5zM181 333h3v1h-3zM187 331h3v1h-3zM186 332h5v1h-5zM185 333h7v1h-7zM185 334h7v1h-7zM185 335h7v1h-7zM186 336h5v1h-5zM187 337h3v1h-3zM193 327h3v1h-3zM192 328h5v1h-5zM191 329h7v1h-7zM191 330h7v1h-7zM191 331h7v1h-7zM192 332h5v1h-5zM193 333h3v1h-3zM198 333h3v1h-3zM197 334h5v1h-5zM196 335h7v1h-7zM196 336h7v1h-7zM196 337h7v1h-7zM197 338h5v1h-5zM198 339h3v1h-3zM204 331h3v1h-3zM203 332h5v1h-5zM202 333h7v1h-7zM202 334h7v1h-7zM202 335h7v1h-7zM203 336h5v1h-5zM204 337h3v1h-3zM210 333h3v1h-3zM209 334h5v1h-5zM208 335h7v1h-7zM208 336h7v1h-7zM208 337h7v1h-7zM209 338h5v1h-5zM210 339h3v1h-3zM216 333h3v1h-3zM215 334h5v1h-5zM214 335h7v1h-7zM214 336h7v1h-7zM214 337h7v1h-7zM215 338h5v1h-5zM216 339h3v1h-3zM222 335h3v1h-3zM221 336h5v1h-5zM220 337h7v1h-7zM220 338h7v1h-7zM220 339h7v1h-7zM221 340h5v1h-5zM222 341h3v1h-3zM228 335h3v1h-3zM227 336h5v1h-5zM226 337h7v1h-7zM226 338h7v1h-7zM226 339h7v1h-7zM227 340h5v1h-5zM228 341h3v1h-3zM234 334h3v1h-3zM233 335h5v1h-5zM232 336h7v1h-7zM232 337h7v1h-7zM232 338h7v1h-7zM233 339h5v1h-5zM234 340h3v1h-3zM239 337h3v1h-3zM238 338h5v1h-5zM237 339h7v1h-7zM237 340h7v1h-7zM237 341h7v1h-7zM238 342h5v1h-5zM239 343h3v1h-3zM245 334h3v1h-3zM244 335h5v1h-5zM243 336h7v1h-7zM243 337h7v1h-7zM243 338h7v1h-7zM244 339h5v1h-5zM245 340h3v1h-3zM251 337h3v1h-3zM250 338h5v1h-5zM249 339h7v1h-7zM249 340h7v1h-7zM249 341h7v1h-7zM250 342h5v1h-5zM251 343h3v1h-3zM257 337h3v1h-3zM256 338h5v1h-5zM255 339h7v1h-7zM255 340h7v1h-7zM255 341h7v1h-7zM256 342h5v1h-5zM257 343h3v1h-3zM263 337h3v1h-3zM262 338h5v1h-5zM261 339h7v1h-7zM261 340h7v1h-7zM261 341h7v1h-7zM262 342h5v1h-5zM263 343h3v1h-3zM269 338h3v1h-3zM268 339h5v1h-5zM267 340h7v1h-7zM267 341h7v1h-7zM267 342h7v1h-7zM268 343h5v1h-5zM269 344h3v1h-3zM275 339h3v1h-3zM274 340h5v1h-5zM273 341h7v1h-7zM273 342h7v1h-7zM273 343h7v1h-7zM274 344h5v1h-5zM275 345h3v1h-3zM281 342h3v1h-3zM280 343h5v1h-5zM279 344h7v1h-7zM279 345h7v1h-7zM279 346h7v1h-7zM280 347h5v1h-5zM281 348h3v1h-3zM286 342h3v1h-3zM285 343h5v1h-5zM284 344h7v1h-7zM284 345h7v1h-7zM284 346h7v1h-7zM285 347h5v1h-5zM286 348h3v1h-3zM292 342h3v1h-3zM291 343h5v1h-5zM290 344h7v1h-7zM290 345h7v1h-7zM290 346h7v1h-7zM291 347h5v1h-5zM292 348h3v1h-3zM298 342h3v1h-3zM297 343h5v1h-5zM296 344h7v1h-7zM296 345h7v1h-7zM296 346h7v1h-7zM297 347h5v1h-5zM298 348h3v1h-3zM304 342h3v1h-3zM303 343h5v1h-5zM302 344h7v1h-7zM302 345h7v1h-7zM302 346h7v1h-7zM303 347h5v1h-5zM304 348h3v1h-3zM310 344h3v1h-3zM309 345h5v1h-5zM308 346h7v1h-7zM308 347h7v1h-7zM308 348h7v1h-7zM309 349h5v1h-5zM310 350h3v1h-3zM316 344h3v1h-3zM315 345h5v1h-5zM314 346h7v1h-7zM314 347h7v1h-7zM314 348h7v1h-7zM315 349h5v1h-5zM316 350h3v1h-3zM322 344h3v1h-3zM321 345h5v1h-5zM320 346h7v1h-7zM320 347h7v1h-7zM320 348h7v1h-7zM321 349h5v1h-5zM322 350h3v1h-3zM327 346h3v1h-3zM326 347h5v1h-5zM325 348h7v1h-7zM325 349h7v1h-7zM325 350h7v1h-7zM326 351h5v1h-5zM327 352h3v1h-3zM333 348h3v1h-3zM332 349h5v1h-5zM331 350h7v1h-7zM331 351h7v1h-7zM331 352h7v1h-7zM332 353h5v1h-5zM333 354h3v1h-3zM339 348h3v1h-3zM338 349h5v1h-5zM337 350h7v1h-7zM337 351h7v1h-7zM337 352h7v1h-7zM338 353h5v1h-5zM339 354h3v1h-3zM345 348h3v1h-3zM344 349h5v1h-5zM343 350h7v1h-7zM343 351h7v1h-7zM343 352h7v1h-7zM344 353h5v1h-5zM345 354h3v1h-3zM351 348h3v1h-3zM350 349h5v1h-5zM349 350h7v1h-7zM349 351h7v1h-7zM349 352h7v1h-7zM350 353h5v1h-5zM351 354h3v1h-3zM357 344h3v1h-3zM356 345h5v1h-5zM355 346h7v1h-7zM355 347h7v1h-7zM355 348h7v1h-7zM356 349h5v1h-5zM357 350h3v1h-3zM363 344h3v1h-3zM362 345h5v1h-5zM361 346h7v1h-7zM361 347h7v1h-7zM361 348h7v1h-7zM362 349h5v1h-5zM363 350h3v1h-3zM368 344h3v1h-3zM367 345h5v1h-5zM366 346h7v1h-7zM366 347h7v1h-7zM366 348h7v1h-7zM367 349h5v1h-5zM368 350h3v1h-3zM374 344h3v1h-3zM373 345h5v1h-5zM372 346h7v1h-7zM372 347h7v1h-7zM372 348h7v1h-7zM373 349h5v1h-5zM374 350h3v1h-3zM380 344h3v1h-3zM379 345h5v1h-5zM378 346h7v1h-7zM378 347h7v1h-7zM378 348h7v1h-7zM379 349h5v1h-5zM380 350h3v1h-3zM386 344h3v1h-3zM385 345h5v1h-5zM384 346h7v1h-7zM384 347h7v1h-7zM384 348h7v1h-7zM385 349h5v1h-5zM386 350h3v1h-3zM392 344h3v1h-3zM391 345h5v1h-5zM390 346h7v1h-7zM390 347h7v1h-7zM390 348h7v1h-7zM391 349h5v1h-5zM392 350h3v1h-3zM398 344h3v1h-3zM397 345h5v1h-5zM396 346h7v1h-7zM396 347h7v1h-7zM396 348h7v1h-7zM397 349h5v1h-5zM398 350h3v1h-3zM404 344h3v1h-3zM403 345h5v1h-5zM402 346h7v1h-7zM402 347h7v1h-7zM402 348h7v1h-7zM403 349h5v1h-5zM404 350h3v1h-3zM409 344h3v1h-3zM408 345h5v1h-5zM407 346h7v1h-7zM407 347h7v1h-7zM407 348h7v1h-7zM408 349h5v1h-5zM409 350h3v1h-3zM415 344h3v1h-3zM414 345h5v1h-5zM413 346h7v1h-7zM413 347h7v1h-7zM413 348h7v1h-7zM414 349h5v1h-5zM415 350h3v1h-3zM421 344h3v1h-3zM420 345h5v1h-5zM419 346h7v1h-7zM419 347h7v1h-7zM419 348h7v1h-7zM420 349h5v1h-5zM421 350h3v1h-3zM427 342h3v1h-3zM426 343h5v1h-5zM425 344h7v1h-7zM425 345h7v1h-7zM425 346h7v1h-7zM426 347h5v1h-5zM427 348h3v1h-3zM433 333h3v1h-3zM432 334h5v1h-5zM431 335h7v1h-7zM431 336h7v1h-7zM431 337h7v1h-7zM432 338h5v1h-5zM433 339h3v1h-3zM439 322h3v1h-3zM438 323h5v1h-5zM437 324h7v1h-7zM437 325h7v1h-7zM437 326h7v1h-7zM438 327h5v1h-5zM439 328h3v1h-3zM445 315h3v1h-3zM444 316h5v1h-5zM443 317h7v1h-7zM443 318h7v1h-7zM443 319h7v1h-7zM444 320h5v1h-5zM445 321h3v1h-3zM451 311h3v1h-3zM450 312h5v1h-5zM449 313h7v1h-7zM449 314h7v1h-7zM449 315h7v1h-7zM450 316h5v1h-5zM451 317h3v1h-3zM456 304h3v1h-3zM455 305h5v1h-5zM454 306h7v1h-7zM454 307h7v1h-7zM454 308h7v1h-7zM455 309h5v1h-5zM456 310h3v1h-3zM462 304h3v1h-3zM461 305h5v1h-5zM460 306h7v1h-7zM460 307h7v1h-7zM460 308h7v1h-7zM461 309h5v1h-5zM462 310h3v1h-3zM468 306h3v1h-3zM467 307h5v1h-5zM466 308h7v1h-7zM466 309h7v1h-7zM466 310h7v1h-7zM467 311h5v1h-5zM468 312h3v1h-3zM474 304h3v1h-3zM473 305h5v1h-5zM472 306h7v1h-7zM472 307h7v1h-7zM472 308h7v1h-7zM473 309h5v1h-5zM474 310h3v1h-3zM480 306h3v1h-3zM479 307h5v1h-5zM478 308h7v1h-7zM478 309h7v1h-7zM478 310h7v1h-7zM479 311h5v1h-5zM480 312h3v1h-3zM486 309h3v1h-3zM485 310h5v1h-5zM484 311h7v1h-7zM484 312h7v1h-7zM484 313h7v1h-7zM485 314h5v1h-5zM486 315h3v1h-3zM492 306h3v1h-3zM491 307h5v1h-5zM490 308h7v1h-7zM490 309h7v1h-7zM490 310h7v1h-7zM491 311h5v1h-5zM492 312h3v1h-3zM497 308h3v1h-3zM496 309h5v1h-5zM495 310h7v1h-7zM495 311h7v1h-7zM495 312h7v1h-7zM496 313h5v1h-5zM497 314h3v1h-3zM503 309h3v1h-3zM502 310h5v1h-5zM501 311h7v1h-7zM501 312h7v1h-7zM501 313h7v1h-7zM502 314h5v1h-5zM503 315h3v1h-3zM509 309h3v1h-3zM508 310h5v1h-5zM507 311h7v1h-7zM507 312h7v1h-7zM507 313h7v1h-7zM508 314h5v1h-5zM509 315h3v1h-3zM515 308h3v1h-3zM514 309h5v1h-5zM513 310h7v1h-7zM513 311h7v1h-7zM513 312h7v1h-7zM514 313h5v1h-5zM515 314h3v1h-3zM521 311h3v1h-3zM520 312h5v1h-5zM519 313h7v1h-7zM519 314h7v1h-7zM519 315h7v1h-7zM520 316h5v1h-5zM521 317h3v1h-3zM527 313h3v1h-3zM526 314h5v1h-5zM525 315h7v1h-7zM525 316h7v1h-7zM525 317h7v1h-7zM526 318h5v1h-5zM527 319h3v1h-3zM533 315h3v1h-3zM532 316h5v1h-5zM531 317h7v1h-7zM531 318h7v1h-7zM531 319h7v1h-7zM532 320h5v1h-5zM533 321h3v1h-3zM538 318h3v1h-3zM537 319h5v1h-5zM536 320h7v1h-7zM536 321h7v1h-7zM536 322h7v1h-7zM537 323h5v1h-5zM538 324h3v1h-3zM544 315h3v1h-3zM543 316h5v1h-5zM542 317h7v1h-7zM542 318h7v1h-7zM542 319h7v1h-7zM543 320h5v1h-5zM544 321h3v1h-3zM550 315h3v1h-3zM549 316h5v1h-5zM548 317h7v1h-7zM548 318h7v1h-7zM548 319h7v1h-7zM549 320h5v1h-5zM550 321h3v1h-3zM556 318h3v1h-3zM555 319h5v1h-5zM554 320h7v1h-7zM554 321h7v1h-7zM554 322h7v1h-7zM555 323h5v1h-5zM556 324h3v1h-3zM562 318h3v1h-3zM561 319h5v1h-5zM560 320h7v1h-7zM560 321h7v1h-7zM560 322h7v1h-7zM561 323h5v1h-5zM562 324h3v1h-3zM568 318h3v1h-3zM567 319h5v1h-5zM566 320h7v1h-7zM566 321h7v1h-7zM566 322h7v1h-7zM567 323h5v1h-5zM568 324h3v1h-3zM574 315h3v1h-3zM573 316h5v1h-5zM572 317h7v1h-7zM572 318h7v1h-7zM572 319h7v1h-7zM573 320h5v1h-5zM574 321h3v1h-3zM579 318h3v1h-3zM578 319h5v1h-5zM577 320h7v1h-7zM577 321h7v1h-7zM577 322h7v1h-7zM578 323h5v1h-5zM579 324h3v1h-3zM585 318h3v1h-3zM584 319h5v1h-5zM583 320h7v1h-7zM583 321h7v1h-7zM583 322h7v1h-7zM584 323h5v1h-5zM585 324h3v1h-3zM591 318h3v1h-3zM590 319h5v1h-5zM589 320h7v1h-7zM589 321h7v1h-7zM589 322h7v1h-7zM590 323h5v1h-5zM591 324h3v1h-3zM597 318h3v1h-3zM596 319h5v1h-5zM595 320h7v1h-7zM595 321h7v1h-7zM595 322h7v1h-7zM596 323h5v1h-5zM597 324h3v1h-3zM603 318h3v1h-3zM602 319h5v1h-5zM601 320h7v1h-7zM601 321h7v1h-7zM601 322h7v1h-7zM602 323h5v1h-5zM603 324h3v1h-3zM609 318h3v1h-3zM608 319h5v1h-5zM607 320h7v1h-7zM607 321h7v1h-7zM607 322h7v1h-7zM608 323h5v1h-5zM609 324h3v1h-3zM615 315h3v1h-3zM614 316h5v1h-5zM613 317h7v1h-7zM613 318h7v1h-7zM613 319h7v1h-7zM614 320h5v1h-5zM615 321h3v1h-3zM621 315h3v1h-3zM620 316h5v1h-5zM619 317h7v1h-7zM619 318h7v1h-7zM619 319h7v1h-7zM620 320h5v1h-5zM621 321h3v1h-3zM626 318h3v1h-3zM625 319h5v1h-5zM624 320h7v1h-7zM624 321h7v1h-7zM624 322h7v1h-7zM625 323h5v1h-5zM626 324h3v1h-3zM632 318h3v1h-3zM631 319h5v1h-5zM630 320h7v1h-7zM630 321h7v1h-7zM630 322h7v1h-7zM631 323h5v1h-5zM632 324h3v1h-3zM638 318h3v1h-3zM637 319h5v1h-5zM636 320h7v1h-7zM636 321h7v1h-7zM636 322h7v1h-7zM637 323h5v1h-5zM638 324h3v1h-3zM644 318h3v1h-3zM643 319h5v1h-5zM642 320h7v1h-7zM642 321h7v1h-7zM642 322h7v1h-7zM643 323h5v1h-5zM644 324h3v1h-3zM650 317h3v1h-3zM649 318h5v1h-5zM648 319h7v1h-7zM648 320h7v1h-7zM648 321h7v1h-7zM649 322h5v1h-5zM650 323h3v1h-3zM656 320h3v1h-3zM655 321h5v1h-5zM654 322h7v1h-7zM654 323h7v1h-7zM654 324h7v1h-7zM655 325h5v1h-5zM656 326h3v1h-3zM662 317h3v1h-3zM661 318h5v1h-5zM660 319h7v1h-7zM660 320h7v1h-7zM660 321h7v1h-7zM661 322h5v1h-5zM662 323h3v1h-3zM667 317h3v1h-3zM666 318h5v1h-5zM665 319h7v1h-7zM665 320h7v1h-7zM665 321h7v1h-7zM666 322h5v1h-5zM667 323h3v1h-3zM673 317h3v1h-3zM672 318h5v1h-5zM671 319h7v1h-7zM671 320h7v1h-7zM671 321h7v1h-7zM672 322h5v1h-5zM673 323h3v1h-3zM679 320h3v1h-3zM678 321h5v1h-5zM677 322h7v1h-7zM677 323h7v1h-7zM677 324h7v1h-7zM678 325h5v1h-5zM679 326h3v1h-3zM685 320h3v1h-3zM684 321h5v1h-5zM683 322h7v1h-7zM683 323h7v1h-7zM683 324h7v1h-7zM684 325h5v1h-5zM685 326h3v1h-3zM691 320h3v1h-3zM690 321h5v1h-5zM689 322h7v1h-7zM689 323h7v1h-7zM689 324h7v1h-7zM690 325h5v1h-5zM691 326h3v1h-3zM697 320h3v1h-3zM696 321h5v1h-5zM695 322h7v1h-7zM695 323h7v1h-7zM695 324h7v1h-7zM696 325h5v1h-5zM697 326h3v1h-3zM703 320h3v1h-3zM702 321h5v1h-5zM701 322h7v1h-7zM701 323h7v1h-7zM701 324h7v1h-7zM702 325h5v1h-5zM703 326h3v1h-3zM708 320h3v1h-3zM707 321h5v1h-5zM706 322h7v1h-7zM706 323h7v1h-7zM706 324h7v1h-7zM707 325h5v1h-5zM708 326h3v1h-3zM714 321h3v1h-3zM713 322h5v1h-5zM712 323h7v1h-7zM712 324h7v1h-7zM712 325h7v1h-7zM713 326h5v1h-5zM714 327h3v1h-3zM720 324h3v1h-3zM719 325h5v1h-5zM718 326h7v1h-7zM718 327h7v1h-7zM718 328h7v1h-7zM719 329h5v1h-5zM720 330h3v1h-3zM726 322h3v1h-3zM725 323h5v1h-5zM724 324h7v1h-7zM724 325h7v1h-7zM724 326h7v1h-7zM725 327h5v1h-5zM726 328h3v1h-3zM732 324h3v1h-3zM731 325h5v1h-5zM730 326h7v1h-7zM730 327h7v1h-7zM730 328h7v1h-7zM731 329h5v1h-5zM732 330h3v1h-3zM738 324h3v1h-3zM737 325h5v1h-5zM736 326h7v1h-7zM736 327h7v1h-7zM736 328h7v1h-7zM737 329h5v1h-5zM738 330h3v1h-3zM744 324h3v1h-3zM743 325h5v1h-5zM742 326h7v1h-7zM742 327h7v1h-7zM742 328h7v1h-7zM743 329h5v1h-5zM744 330h3v1h-3zM750 324h3v1h-3zM749 325h5v1h-5zM748 326h7v1h-7zM748 327h7v1h-7zM748 328h7v1h-7zM749 329h5v1h-5zM750 330h3v1h-3zM755 320h3v1h-3zM754 321h5v1h-5zM753 322h7v1h-7zM753 323h7v1h-7zM753 324h7v1h-7zM754 325h5v1h-5zM755 326h3v1h-3zM761 320h3v1h-3zM760 321h5v1h-5zM759 322h7v1h-7zM759 323h7v1h-7zM759 324h7v1h-7zM760 325h5v1h-5zM761 326h3v1h-3zM767 315h3v1h-3zM766 316h5v1h-5zM765 317h7v1h-7zM765 318h7v1h-7zM765 319h7v1h-7zM766 320h5v1h-5zM767 321h3v1h-3zM773 311h3v1h-3zM772 312h5v1h-5zM771 313h7v1h-7zM771 314h7v1h-7zM771 315h7v1h-7zM772 316h5v1h-5zM773 317h3v1h-3zM779 313h3v1h-3zM778 314h5v1h-5zM777 315h7v1h-7zM777 316h7v1h-7zM777 317h7v1h-7zM778 318h5v1h-5zM779 319h3v1h-3zM785 313h3v1h-3zM784 314h5v1h-5zM783 315h7v1h-7zM783 316h7v1h-7zM783 317h7v1h-7zM784 318h5v1h-5zM785 319h3v1h-3zM791 315h3v1h-3zM790 316h5v1h-5zM789 317h7v1h-7zM789 318h7v1h-7zM789 319h7v1h-7zM790 320h5v1h-5zM791 321h3v1h-3zM796 317h3v1h-3zM795 318h5v1h-5zM794 319h7v1h-7zM794 320h7v1h-7zM794 321h7v1h-7zM795 322h5v1h-5zM796 323h3v1h-3zM802 317h3v1h-3zM801 318h5v1h-5zM800 319h7v1h-7zM800 320h7v1h-7zM800 321h7v1h-7zM801 322h5v1h-5zM802 323h3v1h-3zM808 320h3v1h-3zM807 321h5v1h-5zM806 322h7v1h-7zM806 323h7v1h-7zM806 324h7v1h-7zM807 325h5v1h-5zM808 326h3v1h-3zM814 320h3v1h-3zM813 321h5v1h-5zM812 322h7v1h-7zM812 323h7v1h-7zM812 324h7v1h-7zM813 325h5v1h-5zM814 326h3v1h-3zM820 317h3v1h-3zM819 318h5v1h-5zM818 319h7v1h-7zM818 320h7v1h-7zM818 321h7v1h-7zM819 322h5v1h-5zM820 323h3v1h-3zM826 315h3v1h-3zM825 316h5v1h-5zM824 317h7v1h-7zM824 318h7v1h-7zM824 319h7v1h-7zM825 320h5v1h-5zM826 321h3v1h-3zM832 317h3v1h-3zM831 318h5v1h-5zM830 319h7v1h-7zM830 320h7v1h-7zM830 321h7v1h-7zM831 322h5v1h-5zM832 323h3v1h-3zM837 315h3v1h-3zM836 316h5v1h-5zM835 317h7v1h-7zM835 318h7v1h-7zM835 319h7v1h-7zM836 320h5v1h-5zM837 321h3v1h-3zM843 317h3v1h-3zM842 318h5v1h-5zM841 319h7v1h-7zM841 320h7v1h-7zM841 321h7v1h-7zM842 322h5v1h-5zM843 323h3v1h-3zM849 319h3v1h-3zM848 320h5v1h-5zM847 321h7v1h-7zM847 322h7v1h-7zM847 323h7v1h-7zM848 324h5v1h-5zM849 325h3v1h-3zM855 317h3v1h-3zM854 318h5v1h-5zM853 319h7v1h-7zM853 320h7v1h-7zM853 321h7v1h-7zM854 322h5v1h-5zM855 323h3v1h-3zM861 320h3v1h-3zM860 321h5v1h-5zM859 322h7v1h-7zM859 323h7v1h-7zM859 324h7v1h-7zM860 325h5v1h-5zM861 326h3v1h-3zM867 318h3v1h-3zM866 319h5v1h-5zM865 320h7v1h-7zM865 321h7v1h-7zM865 322h7v1h-7zM866 323h5v1h-5zM867 324h3v1h-3zM873 320h3v1h-3zM872 321h5v1h-5zM871 322h7v1h-7zM871 323h7v1h-7zM871 324h7v1h-7zM872 325h5v1h-5zM873 326h3v1h-3zM878 320h3v1h-3zM877 321h5v1h-5zM876 322h7v1h-7zM876 323h7v1h-7zM876 324h7v1h-7zM877 325h5v1h-5zM878 326h3v1h-3zM884 320h3v1h-3zM883 321h5v1h-5zM882 322h7v1h-7zM882 323h7v1h-7zM882 324h7v1h-7zM883 325h5v1h-5zM884 326h3v1h-3zM890 322h3v1h-3zM889 323h5v1h-5zM888 324h7v1h-7zM888 325h7v1h-7zM888 326h7v1h-7zM889 327h5v1h-5zM890 328h3v1h-3zM896 322h3v1h-3zM895 323h5v1h-5zM894 324h7v1h-7zM894 325h7v1h-7zM894 326h7v1h-7zM895 327h5v1h-5zM896 328h3v1h-3zM902 322h3v1h-3zM901 323h5v1h-5zM900 324h7v1h-7zM900 325h7v1h-7zM900 326h7v1h-7zM901 327h5v1h-5zM902 328h3v1h-3zM908 322h3v1h-3zM907 323h5v1h-5zM906 324h7v1h-7zM906 325h7v1h-7zM906 326h7v1h-7zM907 327h5v1h-5zM908 328h3v1h-3zM914 324h3v1h-3zM913 325h5v1h-5zM912 326h7v1h-7zM912 327h7v1h-7zM912 328h7v1h-7zM913 329h5v1h-5zM914 330h3v1h-3zM920 326h3v1h-3zM919 327h5v1h-5zM918 328h7v1h-7zM918 329h7v1h-7zM918 330h7v1h-7zM919 331h5v1h-5zM920 332h3v1h-3zM925 328h3v1h-3zM924 329h5v1h-5zM923 330h7v1h-7zM923 331h7v1h-7zM923 332h7v1h-7zM924 333h5v1h-5zM925 334h3v1h-3zM931 331h3v1h-3zM930 332h5v1h-5zM929 333h7v1h-7zM929 334h7v1h-7zM929 335h7v1h-7zM930 336h5v1h-5zM931 337h3v1h-3zM937 333h3v1h-3zM936 334h5v1h-5zM935 335h7v1h-7zM935 336h7v1h-7zM935 337h7v1h-7zM936 338h5v1h-5zM937 339h3v1h-3zM943 333h3v1h-3zM942 334h5v1h-5zM941 335h7v1h-7zM941 336h7v1h-7zM941 337h7v1h-7zM942 338h5v1h-5zM943 339h3v1h-3zM949 335h3v1h-3zM948 336h5v1h-5zM947 337h7v1h-7zM947 338h7v1h-7zM947 339h7v1h-7zM948 340h5v1h-5zM949 341h3v1h-3zM955 337h3v1h-3zM954 338h5v1h-5zM953 339h7v1h-7zM953 340h7v1h-7zM953 341h7v1h-7zM954 342h5v1h-5zM955 343h3v1h-3zM961 337h3v1h-3zM960 338h5v1h-5zM959 339h7v1h-7zM959 340h7v1h-7zM959 341h7v1h-7zM960 342h5v1h-5zM961 343h3v1h-3z"/>
<path fill="#ffa500" d="M47 322h1v1h-1zM47 323h2v1h-2zM45 324h5v1h-5zM45 325h5v1h-5zM45 326h5v1h-5zM44 327h7v1h-7zM44 328h7v1h-7zM53 322h1v1h-1zM53 323h2v1h-2zM51 324h5v1h-5zM51 325h5v1h-5zM51 326h5v1h-5zM50 327h7v1h-7zM50 328h7v1h-7zM59 324h1v1h-1zM59 325h2v1h-2zM57 326h5v1h-5zM57 327h5v1h-5zM57 328h5v1h-5zM56 329h7v1h-7zM56 330h7v1h-7zM65 324h1v1h-1zM65 325h2v1h-2zM63 326h5v1h-5zM63 327h5v1h-5zM63 328h5v1h-5zM62 329h7v1h-7zM62 330h7v1h-7zM70 324h1v1h-1zM70 325h2v1h-2zM68 326h5v1h-5zM68 327h5v1h-5zM68 328h5v1h-5zM67 329h7v1h-7zM67 330h7v1h-7zM76 324h1v1h-1zM76 325h2v1h-2zM74 326h5v1h-5zM74 327h5v1h-5zM74 328h5v1h-5zM73 329h7v1h-7zM73 330h7v1h-7zM82 324h1v1h-1zM82 325h2v1h-2zM80 326h5v1h-5zM80 327h5v1h-5zM80 328h5v1h-5zM79 329h7v1h-7zM79 330h7v1h-7zM88 326h1v1h-1zM88 327h2v1h-2zM86 328h5v1h-5zM86 329h5v1h-5zM86 330h5v1h-5zM85 331h7v1h-7zM85 332h7v1h-7zM94 326h1v1h-1zM94 327h2v1h-2zM92 328h5v1h-5zM92 329h5v1h-5zM92 330h5v1h-5zM91 331h7v1h-7zM91 332h7v1h-7zM100 326h1v1h-1zM100 327h2v1h-2zM98 328h5v1h-5zM98 329h5v1h-5zM98 330h5v1h-5zM97 331h7v1h-7zM97 332h7v1h-7zM106 328h1v1h-1zM106 329h2v1h-2zM104 330h5v1h-5zM104 331h5v1h-5zM104 332h5v1h-5zM103 333h7v1h-7zM103 334h7v1h-7zM111 331h1v1h-1zM111 332h2v1h-2zM109 333h5v1h-5zM109 334h5v1h-5zM109 335h5v1h-5zM108 336h7v1h-7zM108 337h7v1h-7zM117 331h1v1h-1zM117 332h2v1h-2zM115 333h5v1h-5zM115 334h5v1h-5zM115 335h5v1h-5zM114 336h7v1h-7zM114 337h7v1h-7zM123 333h1v1h-1zM123 334h2v1h-2zM121 335h5v1h-5zM121 336h5v1h-5zM121 337h5v1h-5zM120 338h7v1h-7zM120 339h7v1h-7zM129 333h1v1h-1zM129 334h2v1h-2zM127 335h5v1h-5zM127 336h5v1h-5zM127 337h5v1h-5zM126 338h7v1h-7zM126 339h7v1h-7zM135 333h1v1h-1zM135 334h2v1h-2zM133 335h5v1h-5zM133 336h5v1h-5zM133 337h5v1h-5zM132 338h7v1h-7zM132 339h7v1h-7zM141 335h1v1h-1zM141 336h2v1h-2zM139 337h5v1h-5zM139 338h5v1h-5zM139 339h5v1h-5zM138 340h7v1h-7zM138 341h7v1h-7zM147 335h1v1h-1zM147 336h2v1h-2zM145 337h5v1h-5zM145 338h5v1h-5zM145 339h5v1h-5zM144 340h7v1h-7zM144 341h7v1h-7zM153 337h1v1h-1zM153 338h2v1h-2zM151 339h5v1h-5zM151 340h5v1h-5zM151 341h5v1h-5zM150 342h7v1h-7zM150 343h7v1h-7zM158 337h1v1h-1zM158 338h2v1h-2zM156 339h5v1h-5zM156 340h5v1h-5zM156 341h5v1h-5zM155 342h7v1h-7zM155 343h7v1h-7zM164 339h1v1h-1zM164 340h2v1h-2zM162 341h5v1h-5zM162 342h5v1h-5zM162 343h5v1h-5zM161 344h7v1h-7zM161 345h7v1h-7zM170 339h1v1h-1zM170 340h2v1h-2zM168 341h5v1h-5zM168 342h5v1h-5zM168 343h5v1h-5zM167 344h7v1h-7zM167 345h7v1h-7zM176 339h1v1h-1zM176 340h2v1h-2zM174 341h5v1h-5zM174 342h5v1h-5zM174 343h5v1h-5zM173 344h7v1h-7zM173 345h7v1h-7zM182 342h1v1h-1zM182 343h2v1h-2zM180 344h5v1h-5zM180 345h5v1h-5zM180 346h5v1h-5zM179 347h7v1h-7zM179 348h7v1h-7zM188 342h1v1h-1zM188 343h2v1h-2zM186 344h5v1h-5zM186 345h5v1h-5zM186 346h5v1h-5zM185 347h7v1h-7zM185 348h7v1h-7zM194 344h1v1h-1zM194 345h2v1h-2zM192 346h5v1h-5zM192 347h5v1h-5zM192 348h5v1h-5zM191 349h7v1h-7zM191 350h7v1h-7zM199 344h1v1h-1zM199 345h2v1h-2zM197 346h5v1h-5zM197 347h5v1h-5zM197 348h5v1h-5zM196 349h7v1h-7zM196 350h7v1h-7zM205 344h1v1h-1zM205 345h2v1h-2zM203 346h5v1h-5zM203 347h5v1h-5zM203 348h5v1h-5zM202 349h7v1h-7zM202 350h7v1h-7zM211 346h1v1h-1zM211 347h2v1h-2zM209 348h5v1h-5zM209 349h5v1h-5zM209 350h5v1h-5zM208 351h7v1h-7zM208 352h7v1h-7zM217 346h1v1h-1zM217 347h2v1h-2zM215 348h5v1h-5zM215 349h5v1h-5zM215 350h5v1h-5zM214 351h7v1h-7zM214 352h7v1h-7zM223 348h1v1h-1zM223 349h2v1h-2zM221 350h5v1h-5zM221 351h5v1h-5zM221 352h5v1h-5zM220 353h7v1h-7zM220 354h7v1h-7zM229 348h1v1h-1zM229 349h2v1h-2zM227 350h5v1h-5zM227 351h5v1h-5zM227 352h5v1h-5zM226 353h7v1h-7zM226 354h7v1h-7zM235 348h1v1h-1zM235 349h2v1h-2zM233 350h5v1h-5zM233 351h5v1h-5zM233 352h5v1h-5zM232 353h7v1h-7zM232 354h7v1h-7zM240 350h1v1h-1zM240 351h2v1h-2zM238 352h5v1h-5zM238 353h5v1h-5zM238 354h5v1h-5zM237 355h7v1h-7zM237 356h7v1h-7zM246 348h1v1h-1zM246 349h2v1h-2zM244 350h5v1h-5zM244 351h5v1h-5zM244 352h5v1h-5zM243 353h7v1h-7zM243 354h7v1h-7zM252 350h1v1h-1zM252 351h2v1h-2zM250 352h5v1h-5zM250 353h5v1h-5zM250 354h5v1h-5zM249 355h7v1h-7zM249 356h7v1h-7zM258 350h1v1h-1zM258 351h2v1h-2zM256 352h5v1h-5zM256 353h5v1h-5zM256 354h5v1h-5zM255 355h7v1h-7zM255 356h7v1h-7zM264 353h1v1h-1zM264 354h2v1h-2zM262 355h5v1h-5zM262 356h5v1h-5zM262 357h5v1h-5zM261 358h7v1h-7zM261 359h7v1h-7zM270 353h1v1h-1zM270 354h2v1h-2zM268 355h5v1h-5zM268 356h5v1h-5zM268 357h5v1h-5zM267 358h7v1h-7zM267 359h7v1h-7zM276 353h1v1h-1zM276 354h2v1h-2zM274 355h5v1h-5zM274 356h5v1h-5zM274 357h5v1h-5zM273 358h7v1h-7zM273 359h7v1h-7zM282 355h1v1h-1zM282 356h2v1h-2zM280 357h5v1h-5zM280 358h5v1h-5zM280 359h5v1h-5zM279 360h7v1h-7zM279 361h7v1h-7zM287 355h1v1h-1zM287 356h2v1h-2zM285 357h5v1h-5zM285 358h5v1h-5zM285 359h5v1h-5zM284 360h7v1h-7zM284 361h7v1h-7zM293 355h1v1h-1zM293 356h2v1h-2zM291 357h5v1h-5zM291 358h5v1h-5zM291 359h5v1h-5zM290 360h7v1h-7zM290 361h7v1h-7zM299 357h1v1h-1zM299 358h2v1h-2zM297 359h5v1h-5zM297 360h5v1h-5zM297 361h5v1h-5zM296 362h7v1h-7zM296 363h7v1h-7zM305 357h1v1h-1zM305 358h2v1h-2zM303 359h5v1h-5zM303 360h5v1h-5zM303 361h5v1h-5zM302 362h7v1h-7zM302 363h7v1h-7zM311 357h1v1h-1zM311 358h2v1h-2zM309 359h5v1h-5zM309 360h5v1h-5zM309 361h5v1h-5zM308 362h7v1h-7zM308 363h7v1h-7zM317 359h1v1h-1zM317 360h2v1h-2zM315 361h5v1h-5zM315 362h5v1h-5zM315 363h5v1h-5zM314 364h7v1h-7zM314 365h7v1h-7zM323 359h1v1h-1zM323 360h2v1h-2zM321 361h5v1h-5zM321 362h5v1h-5zM321 363h5v1h-5zM320 364h7v1h-7zM320 365h7v1h-7zM328 359h1v1h-1zM328 360h2v1h-2zM326 361h5v1h-5zM326 362h5v1h-5zM326 363h5v1h-5zM325 364h7v1h-7zM325 365h7v1h-7zM334 359h1v1h-1zM334 360h2v1h-2zM332 361h5v1h-5zM332 362h5v1h-5zM332 363h5v1h-5zM331 364h7v1h-7zM331 365h7v1h-7zM340 361h1v1h-1zM340 362h2v1h-2zM338 363h5v1h-5zM338 364h5v1h-5zM338 365h5v1h-5zM337 366h7v1h-7zM337 367h7v1h-7zM346 361h1v1h-1zM346 362h2v1h-2zM344 363h5v1h-5zM344 364h5v1h-5zM344 365h5v1h-5zM343 366h7v1h-7zM343 367h7v1h-7zM352 361h1v1h-1zM352 362h2v1h-2zM350 363h5v1h-5zM350 364h5v1h-5zM350 365h5v1h-5zM349 366h7v1h-7zM349 367h7v1h-7zM358 364h1v1h-1zM358 365h2v1h-2zM356 366h5v1h-5zM356 367h5v1h-5zM356 368h5v1h-5zM355 369h7v1h-7zM355 370h7v1h-7zM364 364h1v1h-1zM364 365h2v1h-2zM362 366h5v1h-5zM362 367h5v1h-5zM362 368h5v1h-5zM361 369h7v1h-7zM361 370h7v1h-7zM369 364h1v1h-1zM369 365h2v1h-2zM367 366h5v1h-5zM367 367h5v1h-5zM367 368h5v1h-5zM366 369h7v1h-7zM366 370h7v1h-7zM375 364h1v1h-1zM375 365h2v1h-2zM373 366h5v1h-5zM373 367h5v1h-5zM373 368h5v1h-5zM372 369h7v1h-7zM372 370h7v1h-7zM381 366h1v1h-1zM381 367h2v1h-2zM379 368h5v1h-5zM379 369h5v1h-5zM379 370h5v1h-5zM378 371h7v1h-7zM378 372h7v1h-7zM387 366h1v1h-1zM387 367h2v1h-2zM385 368h5v1h-5zM385 369h5v1h-5zM385 370h5v1h-5zM384 371h7v1h-7zM384 372h7v1h-7zM393 366h1v1h-1zM393 367h2v1h-2zM391 368h5v1h-5zM391 369h5v1h-5zM391 370h5v1h-5zM390 371h7v1h-7zM390 372h7v1h-7zM399 366h1v1h-1zM399 367h2v1h-2zM397 368h5v1h-5zM397 369h5v1h-5zM397 370h5v1h-5zM396 371h7v1h-7zM396 372h7v1h-7zM405 368h1v1h-1zM405 369h2v1h-2zM403 370h5v1h-5zM403 371h5v1h-5zM403 372h5v1h-5zM402 373h7v1h-7zM402 374h7v1h-7zM410 368h1v1h-1zM410 369h2v1h-2zM408 370h5v1h-5zM408 371h5v1h-5zM408 372h5v1h-5zM407 373h7v1h-7zM407 374h7v1h-7zM416 368h1v1h-1zM416 369h2v1h-2zM414 370h5v1h-5zM414 371h5v1h-5zM414 372h5v1h-5zM413 373h7v1h-7zM413 374h7v1h-7zM422 370h1v1h-1zM422 371h2v1h-2zM420 372h5v1h-5zM420 373h5v1h-5zM420 374h5v1h-5zM419 375h7v1h-7zM419 376h7v1h-7zM428 368h1v1h-1zM428 369h2v1h-2zM426 370h5v1h-5zM426 371h5v1h-5zM426 372h5v1h-5zM425 373h7v1h-7zM425 374h7v1h-7zM434 366h1v1h-1zM434 367h2v1h-2zM432 368h5v1h-5zM432 369h5v1h-5zM432 370h5v1h-5zM431 371h7v1h-7zM431 372h7v1h-7zM440 357h1v1h-1zM440 358h2v1h-2zM438 359h5v1h-5zM438 360h5v1h-5zM438 361h5v1h-5zM437 362h7v1h-7zM437 363h7v1h-7zM446 348h1v1h-1zM446 349h2v1h-2zM444 350h5v1h-5zM444 351h5v1h-5zM444 352h5v1h-5zM443 353h7v1h-7zM443 354h7v1h-7zM452 340h1v1h-1zM452 341h2v1h-2zM450 342h5v1h-5zM450 343h5v1h-5zM450 344h5v1h-5zM449 345h7v1h-7zM449 346h7v1h-7zM457 335h1v1h-1zM457 336h2v1h-2zM455 337h5v1h-5zM455 338h5v1h-5zM455 339h5v1h-5zM454 340h7v1h-7zM454 341h7v1h-7zM463 333h1v1h-1zM463 334h2v1h-2zM461 335h5v1h-5zM461 336h5v1h-5zM461 337h5v1h-5zM460 338h7v1h-7zM460 339h7v1h-7zM469 331h1v1h-1zM469 332h2v1h-2zM467 333h5v1h-5zM467 334h5v1h-5zM467 335h5v1h-5zM466 336h7v1h-7zM466 337h7v1h-7zM475 328h1v1h-1zM475 329h2v1h-2zM473 330h5v1h-5zM473 331h5v1h-5zM473 332h5v1h-5zM472 333h7v1h-7zM472 334h7v1h-7zM481 328h1v1h-1zM481 329h2v1h-2zM479 330h5v1h-5zM479 331h5v1h-5zM479 332h5v1h-5zM478 333h7v1h-7zM478 334h7v1h-7zM487 328h1v1h-1zM487 329h2v1h-2zM485 330h5v1h-5zM485 331h5v1h-5zM485 332h5v1h-5zM484 333h7v1h-7zM484 334h7v1h-7zM493 326h1v1h-1zM493 327h2v1h-2zM491 328h5v1h-5zM491 329h5v1h-5zM491 330h5v1h-5zM490 331h7v1h-7zM490 332h7v1h-7zM498 328h1v1h-1zM498 329h2v1h-2zM496 330h5v1h-5zM496 331h5v1h-5zM496 332h5v1h-5zM495 333h7v1h-7zM495 334h7v1h-7zM504 326h1v1h-1zM504 327h2v1h-2zM502 328h5v1h-5zM502 329h5v1h-5zM502 330h5v1h-5zM501 331h7v1h-7zM501 332h7v1h-7zM510 328h1v1h-1zM510 329h2v1h-2zM508 330h5v1h-5zM508 331h5v1h-5zM508 332h5v1h-5zM507 333h7v1h-7zM507 334h7v1h-7zM516 331h1v1h-1zM516 332h2v1h-2zM514 333h5v1h-5zM514 334h5v1h-5zM514 335h5v1h-5zM513 336h7v1h-7zM513 337h7v1h-7zM522 331h1v1h-1zM522 332h2v1h-2zM520 333h5v1h-5zM520 334h5v1h-5zM520 335h5v1h-5zM519 336h7v1h-7zM519 337h7v1h-7zM528 331h1v1h-1zM528 332h2v1h-2zM526 333h5v1h-5zM526 334h5v1h-5zM526 335h5v1h-5zM525 336h7v1h-7zM525 337h7v1h-7zM534 333h1v1h-1zM534 334h2v1h-2zM532 335h5v1h-5zM532 336h5v1h-5zM532 337h5v1h-5zM531 338h7v1h-7zM531 339h7v1h-7zM539 333h1v1h-1zM539 334h2v1h-2zM537 335h5v1h-5zM537 336h5v1h-5zM537 337h5v1h-5zM536 338h7v1h-7zM536 339h7v1h-7zM545 331h1v1h-1zM545 332h2v1h-2zM543 333h5v1h-5zM543 334h5v1h-5zM543 335h5v1h-5zM542 336h7v1h-7zM542 337h7v1h-7zM551 333h1v1h-1zM551 334h2v1h-2zM549 335h5v1h-5zM549 336h5v1h-5zM549 337h5v1h-5zM548 338h7v1h-7zM548 339h7v1h-7zM557 331h1v1h-1zM557 332h2v1h-2zM555 333h5v1h-5zM555 334h5v1h-5zM555 335h5v1h-5zM554 336h7v1h-7zM554 337h7v1h-7zM563 331h1v1h-1zM563 332h2v1h-2zM561 333h5v1h-5zM561 334h5v1h-5zM561 335h5v1h-5zM560 336h7v1h-7zM560 337h7v1h-7zM569 331h1v1h-1zM569 332h2v1h-2zM567 333h5v1h-5zM567 334h5v1h-5zM567 335h5v1h-5zM566 336h7v1h-7zM566 337h7v1h-7zM575 333h1v1h-1zM575 334h2v1h-2zM573 335h5v1h-5zM573 336h5v1h-5zM573 337h5v1h-5zM572 338h7v1h-7zM572 339h7v1h-7zM580 331h1v1h-1zM580 332h2v1h-2zM578 333h5v1h-5zM578 334h5v1h-5zM578 335h5v1h-5zM577 336h7v1h-7zM577 337h7v1h-7zM586 333h1v1h-1zM586 334h2v1h-2zM584 335h5v1h-5zM584 336h5v1h-5zM584 337h5v1h-5zM583 338h7v1h-7zM583 339h7v1h-7zM592 331h1v1h-1zM592 332h2v1h-2zM590 333h5v1h-5zM590 334h5v1h-5zM590 335h5v1h-5zM589 336h7v1h-7zM589 337h7v1h-7zM598 331h1v1h-1zM598 332h2v1h-2zM596 333h5v1h-5zM596 334h5v1h-5zM596 335h5v1h-5zM595 336h7v1h-7zM595 337h7v1h-7zM604 331h1v1h-1zM604 332h2v1h-2zM602 333h5v1h-5zM602 334h5v1h-5zM602 335h5v1h-5zM601 336h7v1h-7zM601 337h7v1h-7zM610 331h1v1h-1zM610 332h2v1h-2zM608 333h5v1h-5zM608 334h5v1h-5zM608 335h5v1h-5zM607 336h7v1h-7zM607 337h7v1h-7zM616 331h1v1h-1zM616 332h2v1h-2zM614 333h5v1h-5zM614 334h5v1h-5zM614 335h5v1h-5zM613 336h7v1h-7zM613 337h7v1h-7zM622 331h1v1h-1zM622 332h2v1h-2zM620 333h5v1h-5zM620 334h5v1h-5zM620 335h5v1h-5zM619 336h7v1h-7zM619 337h7v1h-7zM627 328h1v1h-1zM627 329h2v1h-2zM625 330h5v1h-5zM625 331h5v1h-5zM625 332h5v1h-5zM624 333h7v1h-7zM624 334h7v1h-7zM633 328h1v1h-1zM633 329h2v1h-2zM631 330h5v1h-5zM631 331h5v1h-5zM631 332h5v1h-5zM630 333h7v1h-7zM630 334h7v1h-7zM639 326h1v1h-1zM639 327h2v1h-2zM637 328h5v1h-5zM637 329h5v1h-5zM637 330h5v1h-5zM636 331h7v1h-7zM636 332h7v1h-7zM645 326h1v1h-1zM645 327h2v1h-2zM643 328h5v1h-5zM643 329h5v1h-5zM643 330h5v1h-5zM642 331h7v1h-7zM642 332h7v1h-7zM651 326h1v1h-1zM651 327h2v1h-2zM649 328h5v1h-5zM649 329h5v1h-5zM649 330h5v1h-5zM648 331h7v1h-7zM648 332h7v1h-7zM657 326h1v1h-1zM657 327h2v1h-2zM655 328h5v1h-5zM655 329h5v1h-5zM655 330h5v1h-5zM654 331h7v1h-7zM654 332h7v1h-7zM663 326h1v1h-1zM663 327h2v1h-2zM661 328h5v1h-5zM661 329h5v1h-5zM661 330h5v1h-5zM660 331h7v1h-7zM660 332h7v1h-7zM668 326h1v1h-1zM668 327h2v1h-2zM666 328h5v1h-5zM666 329h5v1h-5zM666 330h5v1h-5zM665 331h7v1h-7zM665 332h7v1h-7zM674 326h1v1h-1zM674 327h2v1h-2zM672 328h5v1h-5zM672 329h5v1h-5zM672 330h5v1h-5zM671 331h7v1h-7zM671 332h7v1h-7zM680 326h1v1h-1zM680 327h2v1h-2zM678 328h5v1h-5zM678 329h5v1h-5zM678 330h5v1h-5zM677 331h7v1h-7zM677 332h7v1h-7zM686 326h1v1h-1zM686 327h2v1h-2zM684 328h5v1h-5zM684 329h5v1h-5zM684 330h5v1h-5zM683 331h7v1h-7zM683 332h7v1h-7zM692 326h1v1h-1zM692 327h2v1h-2zM690 328h5v1h-5zM690 329h5v1h-5zM690 330h5v1h-5zM689 331h7v1h-7zM689 332h7v1h-7zM698 326h1v1h-1zM698 327h2v1h-2zM696 328h5v1h-5zM696 329h5v1h-5zM696 330h5v1h-5zM695 331h7v1h-7zM695 332h7v1h-7zM704 326h1v1h-1zM704 327h2v1h-2zM702 328h5v1h-5zM702 329h5v1h-5zM702 330h5v1h-5zM701 331h7v1h-7zM701 332h7v1h-7zM709 326h1v1h-1zM709 327h2v1h-2zM707 328h5v1h-5zM707 329h5v1h-5zM707 330h5v1h-5zM706 331h7v1h-7zM706 332h7v1h-7zM715 326h1v1h-1zM715 327h2v1h-2zM713 328h5v1h-5zM713 329h5v1h-5zM713 330h5v1h-5zM712 331h7v1h-7zM712 332h7v1h-7zM721 328h1v1h-1zM721 329h2v1h-2zM719 330h5v1h-5zM719 331h5v1h-5zM719 332h5v1h-5zM718 333h7v1h-7zM718 334h7v1h-7zM727 328h1v1h-1zM727 329h2v1h-2zM725 330h5v1h-5zM725 331h5v1h-5zM725 332h5v1h-5zM724 333h7v1h-7zM724 334h7v1h-7zM733 331h1v1h-1zM733 332h2v1h-2zM731 333h5v1h-5zM731 334h5v1h-5zM731 335h5v1h-5zM730 336h7v1h-7zM730 337h7v1h-7zM739 333h1v1h-1zM739 334h2v1h-2zM737 335h5v1h-5zM737 336h5v1h-5zM737 337h5v1h-5zM736 338h7v1h-7zM736 339h7v1h-7zM745 331h1v1h-1zM745 332h2v1h-2zM743 333h5v1h-5zM743 334h5v1h-5zM743 335h5v1h-5zM742 336h7v1h-7zM742 337h7v1h-7zM751 331h1v1h-1zM751 332h2v1h-2zM749 333h5v1h-5zM749 334h5v1h-5zM749 335h5v1h-5zM748 336h7v1h-7zM748 337h7v1h-7zM756 333h1v1h-1zM756 334h2v1h-2zM754 335h5v1h-5zM754 336h5v1h-5zM754 337h5v1h-5zM753 338h7v1h-7zM753 339h7v1h-7zM762 331h1v1h-1zM762 332h2v1h-2zM760 333h5v1h-5zM760 334h5v1h-5zM760 335h5v1h-5zM759 336h7v1h-7zM759 337h7v1h-7zM768 331h1v1h-1zM768 332h2v1h-2zM766 333h5v1h-5zM766 334h5v1h-5zM766 335h5v1h-5zM765 336h7v1h-7zM765 337h7v1h-7zM774 331h1v1h-1zM774 332h2v1h-2zM772 333h5v1h-5zM772 334h5v1h-5zM772 335h5v1h-5zM771 336h7v1h-7zM771 337h7v1h-7zM780 333h1v1h-1zM780 334h2v1h-2zM778 335h5v1h-5zM778 336h5v1h-5zM778 337h5v1h-5zM777 338h7v1h-7zM777 339h7v1h-7zM786 331h1v1h-1zM786 332h2v1h-2zM784 333h5v1h-5zM784 334h5v1h-5zM784 335h5v1h-5zM783 336h7v1h-7zM783 337h7v1h-7zM792 333h1v1h-1zM792 334h2v1h-2zM790 335h5v1h-5zM790 336h5v1h-5zM790 337h5v1h-5zM789 338h7v1h-7zM789 339h7v1h-7zM797 333h1v1h-1zM797 334h2v1h-2zM795 335h5v1h-5zM795 336h5v1h-5zM795 337h5v1h-5zM794 338h7v1h-7zM794 339h7v1h-7zM803 333h1v1h-1zM803 334h2v1h-2zM801 335h5v1h-5zM801 336h5v1h-5zM801 337h5v1h-5zM800 338h7v1h-7zM800 339h7v1h-7zM809 333h1v1h-1zM809 334h2v1h-2zM807 335h5v1h-5zM807 336h5v1h-5zM807 337h5v1h-5zM806 338h7v1h-7zM806 339h7v1h-7zM815 335h1v1h-1zM815 336h2v1h-2zM813 337h5v1h-5zM813 338h5v1h-5zM813 339h5v1h-5zM812 340h7v1h-7zM812 341h7v1h-7zM821 335h1v1h-1zM821 336h2v1h-2zM819 337h5v1h-5zM819 338h5v1h-5zM819 339h5v1h-5zM818 340h7v1h-7zM818 341h7v1h-7zM827 335h1v1h-1zM827 336h2v1h-2zM825 337h5v1h-5zM825 338h5v1h-5zM825 339h5v1h-5zM824 340h7v1h-7zM824 341h7v1h-7zM833 337h1v1h-1zM833 338h2v1h-2zM831 339h5v1h-5zM831 340h5v1h-5zM831 341h5v1h-5zM830 342h7v1h-7zM830 343h7v1h-7zM838 337h1v1h-1zM838 338h2v1h-2zM836 339h5v1h-5zM836 340h5v1h-5zM836 341h5v1h-5zM835 342h7v1h-7zM835 343h7v1h-7zM844 337h1v1h-1zM844 338h2v1h-2zM842 339h5v1h-5zM842 340h5v1h-5zM842 341h5v1h-5zM841 342h7v1h-7zM841 343h7v1h-7zM850 337h1v1h-1zM850 338h2v1h-2zM848 339h5v1h-5zM848 340h5v1h-5zM848 341h5v1h-5zM847 342h7v1h-7zM847 343h7v1h-7zM856 337h1v1h-1zM856 338h2v1h-2zM854 339h5v1h-5zM854 340h5v1h-5zM854 341h5v1h-5zM853 342h7v1h-7zM853 343h7v1h-7zM862 337h1v1h-1zM862 338h2v1h-2zM860 339h5v1h-5zM860 340h5v1h-5zM860 341h5v1h-5zM859 342h7v1h-7zM859 343h7v1h-7zM868 339h1v1h-1zM868 340h2v1h-2zM866 341h5v1h-5zM866 342h5v1h-5zM866 343h5v1h-5zM865 344h7v1h-7zM865 345h7v1h-7zM874 339h1v1h-1zM874 340h2v1h-2zM872 341h5v1h-5zM872 342h5v1h-5zM872 343h5v1h-5zM871 344h7v1h-7zM871 345h7v1h-7zM879 339h1v1h-1zM879 340h2v1h-2zM877 341h5v1h-5zM877 342h5v1h-5zM877 343h5v1h-5zM876 344h7v1h-7zM876 345h7v1h-7zM885 342h1v1h-1zM885 343h2v1h-2zM883 344h5v1h-5zM883 345h5v1h-5zM883 346h5v1h-5zM882 347h7v1h-7zM882 348h7v1h-7zM891 342h1v1h-1zM891 343h2v1h-2zM889 344h5v1h-5zM889 345h5v1h-5zM889 346h5v1h-5zM888 347h7v1h-7zM888 348h7v1h-7zM897 344h1v1h-1zM897 345h2v1h-2zM895 346h5v1h-5zM895 347h5v1h-5zM895 348h5v1h-5zM894 349h7v1h-7zM894 350h7v1h-7zM903 346h1v1h-1zM903 347h2v1h-2zM901 348h5v1h-5zM901 349h5v1h-5zM901 350h5v1h-5zM900 351h7v1h-7zM900 352h7v1h-7zM909 346h1v1h-1zM909 347h2v1h-2zM907 348h5v1h-5zM907 349h5v1h-5zM907 350h5v1h-5zM906 351h7v1h-7zM906 352h7v1h-7zM915 348h1v1h-1zM915 349h2v1h-2zM913 350h5v1h-5zM913 351h5v1h-5zM913 352h5v1h-5zM912 353h7v1h-7zM912 354h7v1h-7zM921 348h1v1h-1zM921 349h2v1h-2zM919 350h5v1h-5zM919 351h5v1h-5zM919 352h5v1h-5zM918 353h7v1h-7zM918 354h7v1h-7zM926 348h1v1h-1zM926 349h2v1h-2zM924 350h5v1h-5zM924 351h5v1h-5zM924 352h5v1h-5zM923 353h7v1h-7zM923 354h7v1h-7zM932 350h1v1h-1zM932 351h2v1h-2zM930 352h5v1h-5zM930 353h5v1h-5zM930 354h5v1h-5zM929 355h7v1h-7zM929 356h7v1h-7zM938 350h1v1h-1zM938 351h2v1h-2zM936 352h5v1h-5zM936 353h5v1h-5zM936 354h5v1h-5zM935 355h7v1h-7zM935 356h7v1h-7zM944 350h1v1h-1zM944 351h2v1h-2zM942 352h5v1h-5zM942 353h5v1h-5zM942 354h5v1h-5zM941 355h7v1h-7zM941 356h7v1h-7zM950 353h1v1h-1zM950 354h2v1h-2zM948 355h5v1h-5zM948 356h5v1h-5zM948 357h5v1h-5zM947 358h7v1h-7zM947 359h7v1h-7zM956 353h1v1h-1zM956 354h2v1h-2zM954 355h5v1h-5zM954 356h5v1h-5zM954 357h5v1h-5zM953 358h7v1h-7zM953 359h7v1h-7zM962 355h1v1h-1zM962 356h2v1h-2zM960 357h5v1h-5zM960 358h5v1h-5zM960 359h5v1h-5zM959 360h7v1h-7zM959 361h7v1h-7z"/>
<path fill="#0000ff" d="M47 260h1v1h-1zM46 261h3v1h-3zM45 262h5v1h-5zM44 263h7v1h-7zM44 264h7v1h-7zM44 265h7v1h-7zM44 266h7v1h-7zM53 253h1v1h-1zM52 254h3v1h-3zM51 255h5v1h-5zM50 256h7v1h-7zM50 257h7v1h-7zM50 258h7v1h-7zM50 259h7v1h-7zM59 249h1v1h-1zM58 250h3v1h-3zM57 251h5v1h-5zM56 252h7v1h-7zM56 253h7v1h-7zM56 254h7v1h-7zM56 255h7v1h-7zM65 245h1v1h-1zM64 246h3v1h-3zM63 247h5v1h-5zM62 248h7v1h-7zM62 249h7v1h-7zM62 250h7v1h-7zM62 251h7v1h-7zM70 242h1v1h-1zM69 243h3v1h-3zM68 244h5v1h-5zM67 245h7v1h-7zM67 246h7v1h-7zM67 247h7v1h-7zM67 248h7v1h-7zM76 245h1v1h-1zM75 246h3v1h-3zM74 247h5v1h-5zM73 248h7v1h-7zM73 249h7v1h-7zM73 250h7v1h-7zM73 251h7v1h-7zM82 245h1v1h-1zM81 246h3v1h-3zM80 247h5v1h-5zM79 248h7v1h-7zM79 249h7v1h-7zM79 250h7v1h-7zM79 251h7v1h-7zM88 242h1v1h-1zM87 243h3v1h-3zM86 244h5v1h-5zM85 245h7v1h-7zM85 246h7v1h-7zM85 247h7v1h-7zM85 248h7v1h-7zM94 242h1v1h-1zM93 243h3v1h-3zM92 244h5v1h-5zM91 245h7v1h-7zM91 246h7v1h-7zM91 247h7v1h-7zM91 248h7v1h-7zM100 247h1v1h-1zM99 248h3v1h-3zM98 249h5v1h-5zM97 250h7v1h-7zM97 251h7v1h-7zM97 252h7v1h-7zM97 253h7v1h-7zM106 247h1v1h-1zM105 248h3v1h-3zM104 249h5v1h-5zM103 250h7v1h-7zM103 251h7v1h-7zM103 252h7v1h-7zM103 253h7v1h-7zM111 249h1v1h-1zM110 250h3v1h-3zM109 251h5v1h-5zM108 252h7v1h-7zM108 253h7v1h-7zM108 254h7v1h-7zM108 255h7v1h-7zM117 251h1v1h-1zM116 252h3v1h-3zM115 253h5v1h-5zM114 254h7v1h-7zM114 255h7v1h-7zM114 256h7v1h-7zM114 257h7v1h-7zM123 251h1v1h-1zM122 252h3v1h-3zM121 253h5v1h-5zM120 254h7v1h-7zM120 255h7v1h-7zM120 256h7v1h-7zM120 257h7v1h-7zM129 253h1v1h-1zM128 254h3v1h-3zM127 255h5v1h-5zM126 256h7v1h-7zM126 257h7v1h-7zM126 258h7v1h-7zM126 259h7v1h-7zM135 253h1v1h-1zM134 254h3v1h-3zM133 255h5v1h-5zM132 256h7v1h-7zM132 257h7v1h-7zM132 258h7v1h-7zM132 259h7v1h-7zM141 253h1v1h-1zM140 254h3v1h-3zM139 255h5v1h-5zM138 256h7v1h-7zM138 257h7v1h-7zM138 258h7v1h-7zM138 259h7v1h-7zM147 253h1v1h-1zM146 254h3v1h-3zM145 255h5v1h-5zM144 256h7v1h-7zM144 257h7v1h-7zM144 258h7v1h-7zM144 259h7v1h-7zM153 253h1v1h-1zM152 254h3v1h-3zM151 255h5v1h-5zM150 256h7v1h-7zM150 257h7v1h-7zM150 258h7v1h-7zM150 259h7v1h-7zM158 253h1v1h-1zM157 254h3v1h-3zM156 255h5v1h-5zM155 256h7v1h-7zM155 257h7v1h-7zM155 258h7v1h-7zM155 259h7v1h-7zM164 255h1v1h-1zM163 256h3v1h-3zM162 257h5v1h-5zM161 258h7v1h-7zM161 259h7v1h-7zM161 260h7v1h-7zM161 261h7v1h-7zM170 255h1v1h-1zM169 256h3v1h-3zM168 257h5v1h-5zM167 258h7v1h-7zM167 259h7v1h-7zM167 260h7v1h-7zM167 261h7v1h-7zM176 255h1v1h-1zM175 256h3v1h-3zM174 257h5v1h-5zM173 258h7v1h-7zM173 259h7v1h-7zM173 260h7v1h-7zM173 261h7v1h-7zM182 255h1v1h-1zM181 256h3v1h-3zM180 257h5v1h-5zM179 258h7v1h-7zM179 259h7v1h-7zM179 260h7v1h-7zM179 261h7v1h-7zM188 258h1v1h-1zM187 259h3v1h-3zM186 260h5v1h-5zM185 261h7v1h-7zM185 262h7v1h-7zM185 263h7v1h-7zM185 264h7v1h-7zM194 260h1v1h-1zM193 261h3v1h-3zM192 262h5v1h-5zM191 263h7v1h-7zM191 264h7v1h-7zM191 265h7v1h-7zM191 266h7v1h-7zM199 260h1v1h-1zM198 261h3v1h-3zM197 262h5v1h-5zM196 263h7v1h-7zM196 264h7v1h-7zM196 265h7v1h-7zM196 266h7v1h-7zM205 262h1v1h-1zM204 263h3v1h-3zM203 264h5v1h-5zM202 265h7v1h-7zM202 266h7v1h-7zM202 267h7v1h-7zM202 268h7v1h-7zM211 262h1v1h-1zM210 263h3v1h-3zM209 264h5v1h-5zM208 265h7v1h-7zM208 266h7v1h-7zM208 267h7v1h-7zM208 268h7v1h-7zM217 262h1v1h-1zM216 263h3v1h-3zM215 264h5v1h-5zM214 265h7v1h-7zM214 266h7v1h-7zM214 267h7v1h-7zM214 268h7v1h-7zM223 262h1v1h-1zM222 263h3v1h-3zM221 264h5v1h-5zM220 265h7v1h-7zM220 266h7v1h-7zM220 267h7v1h-7zM220 268h7v1h-7zM229 262h1v1h-1zM228 263h3v1h-3zM227 264h5v1h-5zM226 265h7v1h-7zM226 266h7v1h-7zM226 267h7v1h-7zM226 268h7v1h-7zM235 262h1v1h-1zM234 263h3v1h-3zM233 264h5v1h-5zM232 265h7v1h-7zM232 266h7v1h-7zM232 267h7v1h-7zM232 268h7v1h-7zM240 262h1v1h-1zM239 263h3v1h-3zM238 264h5v1h-5zM237 265h7v1h-7zM237 266h7v1h-7zM237 267h7v1h-7zM237 268h7v1h-7zM246 262h1v1h-1zM245 263h3v1h-3zM244 264h5v1h-5zM243 265h7v1h-7zM243 266h7v1h-7zM243 267h7v1h-7zM243 268h7v1h-7zM252 262h1v1h-1zM251 263h3v1h-3zM250 264h5v1h-5zM249 265h7v1h-7zM249 266h7v1h-7zM249 267h7v1h-7zM249 268h7v1h-7zM258 262h1v1h-1zM257 263h3v1h-3zM256 264h5v1h-5zM255 265h7v1h-7zM255 266h7v1h-7zM255 267h7v1h-7zM255 268h7v1h-7zM264 262h1v1h-1zM263 263h3v1h-3zM262 264h5v1h-5zM261 265h7v1h-7zM261 266h7v1h-7zM261 267h7v1h-7zM261 268h7v1h-7zM270 262h1v1h-1zM269 263h3v1h-3zM268 264h5v1h-5zM267 265h7v1h-7zM267 266h7v1h-7zM267 267h7v1h-7zM267 268h7v1h-7zM276 265h1v1h-1zM275 266h3v1h-3zM274 267h5v1h-5zM273 268h7v1h-7zM273 269h7v1h-7zM273 270h7v1h-7zM273 271h7v1h-7zM282 265h1v1h-1zM281 266h3v1h-3zM280 267h5v1h-5zM279 268h7v1h-7zM279 269h7v1h-7zM279 270h7v1h-7zM279 271h7v1h-7zM287 267h1v1h-1zM286 268h3v1h-3zM285 269h5v1h-5zM284 270h7v1h-7zM284 271h7v1h-7zM284 272h7v1h-7zM284 273h7v1h-7zM293 271h1v1h-1zM292 272h3v1h-3zM291 273h5v1h-5zM290 274h7v1h-7zM290 275h7v1h-7zM290 276h7v1h-7zM290 277h7v1h-7zM299 276h1v1h-1zM298 277h3v1h-3zM297 278h5v1h-5zM296 279h7v1h-7zM296 280h7v1h-7zM296 281h7v1h-7zM296 282h7v1h-7zM305 287h1v1h-1zM304 288h3v1h-3zM303 289h5v1h-5zM302 290h7v1h-7zM302 291h7v1h-7zM302 292h7v1h-7zM302 293h7v1h-7zM311 291h1v1h-1zM310 292h3v1h-3zM309 293h5v1h-5zM308 294h7v1h-7zM308 295h7v1h-7zM308 296h7v1h-7zM308 297h7v1h-7zM317 291h1v1h-1zM316 292h3v1h-3zM315 293h5v1h-5zM314 294h7v1h-7zM314 295h7v1h-7zM314 296h7v1h-7zM314 297h7v1h-7zM323 291h1v1h-1zM322 292h3v1h-3zM321 293h5v1h-5zM320 294h7v1h-7zM320 295h7v1h-7zM320 296h7v1h-7zM320 297h7v1h-7zM328 291h1v1h-1zM327 292h3v1h-3zM326 293h5v1h-5zM325 294h7v1h-7zM325 295h7v1h-7zM325 296h7v1h-7zM325 297h7v1h-7zM334 293h1v1h-1zM333 294h3v1h-3zM332 295h5v1h-5zM331 296h7v1h-7zM331 297h7v1h-7zM331 298h7v1h-7zM331 299h7v1h-7zM340 300h1v1h-1zM339 301h3v1h-3zM338 302h5v1h-5zM337 303h7v1h-7zM337 304h7v1h-7zM337 305h7v1h-7zM337 306h7v1h-7zM346 300h1v1h-1zM345 301h3v1h-3zM344 302h5v1h-5zM343 303h7v1h-7zM343 304h7v1h-7zM343 305h7v1h-7zM343 306h7v1h-7zM352 300h1v1h-1zM351 301h3v1h-3zM350 302h5v1h-5zM349 303h7v1h-7zM349 304h7v1h-7zM349 305h7v1h-7zM349 306h7v1h-7zM358 295h1v1h-1zM357 296h3v1h-3zM356 297h5v1h-5zM355 298h7v1h-7zM355 299h7v1h-7zM355 300h7v1h-7zM355 301h7v1h-7zM364 293h1v1h-1zM363 294h3v1h-3zM362 295h5v1h-5zM361 296h7v1h-7zM361 297h7v1h-7zM361 298h7v1h-7zM361 299h7v1h-7zM369 291h1v1h-1zM368 292h3v1h-3zM367 293h5v1h-5zM366 294h7v1h-7zM366 295h7v1h-7zM366 296h7v1h-7zM366 297h7v1h-7zM375 291h1v1h-1zM374 292h3v1h-3zM373 293h5v1h-5zM372 294h7v1h-7zM372 295h7v1h-7zM372 296h7v1h-7zM372 297h7v1h-7zM381 289h1v1h-1zM380 290h3v1h-3zM379 291h5v1h-5zM378 292h7v1h-7zM378 293h7v1h-7zM378 294h7v1h-7zM378 295h7v1h-7zM387 287h1v1h-1zM386 288h3v1h-3zM385 289h5v1h-5zM384 290h7v1h-7zM384 291h7v1h-7zM384 292h7v1h-7zM384 293h7v1h-7zM393 284h1v1h-1zM392 285h3v1h-3zM391 286h5v1h-5zM390 287h7v1h-7zM390 288h7v1h-7zM390 289h7v1h-7zM390 290h7v1h-7zM399 282h1v1h-1zM398 283h3v1h-3zM397 284h5v1h-5zM396 285h7v1h-7zM396 286h7v1h-7zM396 287h7v1h-7zM396 288h7v1h-7zM405 280h1v1h-1zM404 281h3v1h-3zM403 282h5v1h-5zM402 283h7v1h-7zM402 284h7v1h-7zM402 285h7v1h-7zM402 286h7v1h-7zM410 276h1v1h-1zM409 277h3v1h-3zM408 278h5v1h-5zM407 279h7v1h-7zM407 280h7v1h-7zM407 281h7v1h-7zM407 282h7v1h-7zM416 273h1v1h-1zM415 274h3v1h-3zM414 275h5v1h-5zM413 276h7v1h-7zM413 277h7v1h-7zM413 278h7v1h-7zM413 279h7v1h-7zM422 273h1v1h-1zM421 274h3v1h-3zM420 275h5v1h-5zM419 276h7v1h-7zM419 277h7v1h-7zM419 278h7v1h-7zM419 279h7v1h-7zM428 267h1v1h-1zM427 268h3v1h-3zM426 269h5v1h-5zM425 270h7v1h-7zM425 271h7v1h-7zM425 272h7v1h-7zM425 273h7v1h-7zM434 260h1v1h-1zM433 261h3v1h-3zM432 262h5v1h-5zM431 263h7v1h-7zM431 264h7v1h-7zM431 265h7v1h-7zM431 266h7v1h-7zM440 253h1v1h-1zM439 254h3v1h-3zM438 255h5v1h-5zM437 256h7v1h-7zM437 257h7v1h-7zM437 258h7v1h-7zM437 259h7v1h-7zM446 258h1v1h-1zM445 259h3v1h-3zM444 260h5v1h-5zM443 261h7v1h-7zM443 262h7v1h-7zM443 263h7v1h-7zM443 264h7v1h-7zM452 258h1v1h-1zM451 259h3v1h-3zM450 260h5v1h-5zM449 261h7v1h-7zM449 262h7v1h-7zM449 263h7v1h-7zM449 264h7v1h-7zM457 258h1v1h-1zM456 259h3v1h-3zM455 260h5v1h-5zM454 261h7v1h-7zM454 262h7v1h-7zM454 263h7v1h-7zM454 264h7v1h-7zM463 258h1v1h-1zM462 259h3v1h-3zM461 260h5v1h-5zM460 261h7v1h-7zM460 262h7v1h-7zM460 263h7v1h-7zM460 264h7v1h-7zM469 258h1v1h-1zM468 259h3v1h-3zM467 260h5v1h-5zM466 261h7v1h-7zM466 262h7v1h-7zM466 263h7v1h-7zM466 264h7v1h-7zM475 258h1v1h-1zM474 259h3v1h-3zM473 260h5v1h-5zM472 261h7v1h-7zM472 262h7v1h-7zM472 263h7v1h-7zM472 264h7v1h-7zM481 227h1v1h-1zM480 228h3v1h-3zM479 229h5v1h-5zM478 230h7v1h-7zM478 231h7v1h-7zM478 232h7v1h-7zM478 233h7v1h-7zM487 216h1v1h-1zM486 217h3v1h-3zM485 218h5v1h-5zM484 219h7v1h-7zM484 220h7v1h-7zM484 221h7v1h-7zM484 222h7v1h-7zM493 207h1v1h-1zM492 208h3v1h-3zM491 209h5v1h-5zM490 210h7v1h-7zM490 211h7v1h-7zM490 212h7v1h-7zM490 213h7v1h-7zM498 200h1v1h-1zM497 201h3v1h-3zM496 202h5v1h-5zM495 203h7v1h-7zM495 204h7v1h-7zM495 205h7v1h-7zM495 206h7v1h-7zM504 200h1v1h-1zM503 201h3v1h-3zM502 202h5v1h-5zM501 203h7v1h-7zM501 204h7v1h-7zM501 205h7v1h-7zM501 206h7v1h-7zM510 218h1v1h-1zM509 219h3v1h-3zM508 220h5v1h-5zM507 221h7v1h-7zM507 222h7v1h-7zM507 223h7v1h-7zM507 224h7v1h-7zM516 213h1v1h-1zM515 214h3v1h-3zM514 215h5v1h-5zM513 216h7v1h-7zM513 217h7v1h-7zM513 218h7v1h-7zM513 219h7v1h-7zM522 214h1v1h-1zM521 215h3v1h-3zM520 216h5v1h-5zM519 217h7v1h-7zM519 218h7v1h-7zM519 219h7v1h-7zM519 220h7v1h-7zM528 218h1v1h-1zM527 219h3v1h-3zM526 220h5v1h-5zM525 221h7v1h-7zM525 222h7v1h-7zM525 223h7v1h-7zM525 224h7v1h-7zM534 223h1v1h-1zM533 224h3v1h-3zM532 225h5v1h-5zM531 226h7v1h-7zM531 227h7v1h-7zM531 228h7v1h-7zM531 229h7v1h-7zM539 216h1v1h-1zM538 217h3v1h-3zM537 218h5v1h-5zM536 219h7v1h-7zM536 220h7v1h-7zM536 221h7v1h-7zM536 222h7v1h-7zM545 209h1v1h-1zM544 210h3v1h-3zM543 211h5v1h-5zM542 212h7v1h-7zM542 213h7v1h-7zM542 214h7v1h-7zM542 215h7v1h-7zM551 205h1v1h-1zM550 206h3v1h-3zM549 207h5v1h-5zM548 208h7v1h-7zM548 209h7v1h-7zM548 210h7v1h-7zM548 211h7v1h-7zM557 198h1v1h-1zM556 199h3v1h-3zM555 200h5v1h-5zM554 201h7v1h-7zM554 202h7v1h-7zM554 203h7v1h-7zM554 204h7v1h-7zM563 176h1v1h-1zM562 177h3v1h-3zM561 178h5v1h-5zM560 179h7v1h-7zM560 180h7v1h-7zM560 181h7v1h-7zM560 182h7v1h-7zM569 156h1v1h-1zM568 157h3v1h-3zM567 158h5v1h-5zM566 159h7v1h-7zM566 160h7v1h-7zM566 161h7v1h-7zM566 162h7v1h-7zM575 165h1v1h-1zM574 166h3v1h-3zM573 167h5v1h-5zM572 168h7v1h-7zM572 169h7v1h-7zM572 170h7v1h-7zM572 171h7v1h-7zM580 156h1v1h-1zM579 157h3v1h-3zM578 158h5v1h-5zM577 159h7v1h-7zM577 160h7v1h-7zM577 161h7v1h-7zM577 162h7v1h-7zM586 163h1v1h-1zM585 164h3v1h-3zM584 165h5v1h-5zM583 166h7v1h-7zM583 167h7v1h-7zM583 168h7v1h-7zM583 169h7v1h-7zM592 170h1v1h-1zM591 171h3v1h-3zM590 172h5v1h-5zM589 173h7v1h-7zM589 174h7v1h-7zM589 175h7v1h-7zM589 176h7v1h-7zM598 159h1v1h-1zM597 160h3v1h-3zM596 161h5v1h-5zM595 162h7v1h-7zM595 163h7v1h-7zM595 164h7v1h-7zM595 165h7v1h-7zM604 143h1v1h-1zM603 144h3v1h-3zM602 145h5v1h-5zM601 146h7v1h-7zM601 147h7v1h-7zM601 148h7v1h-7zM601 149h7v1h-7zM610 119h1v1h-1zM609 120h3v1h-3zM608 121h5v1h-5zM607 122h7v1h-7zM607 123h7v1h-7zM607 124h7v1h-7zM607 125h7v1h-7zM616 126h1v1h-1zM615 127h3v1h-3zM614 128h5v1h-5zM613 129h7v1h-7zM613 130h7v1h-7zM613 131h7v1h-7zM613 132h7v1h-7zM622 135h1v1h-1zM621 136h3v1h-3zM620 137h5v1h-5zM619 138h7v1h-7zM619 139h7v1h-7zM619 140h7v1h-7zM619 141h7v1h-7zM627 122h1v1h-1zM626 123h3v1h-3zM625 124h5v1h-5zM624 125h7v1h-7zM624 126h7v1h-7zM624 127h7v1h-7zM624 128h7v1h-7zM633 114h1v1h-1zM632 115h3v1h-3zM631 116h5v1h-5zM630 117h7v1h-7zM630 118h7v1h-7zM630 119h7v1h-7zM630 120h7v1h-7zM639 71h1v1h-1zM638 72h3v1h-3zM637 73h5v1h-5zM636 74h7v1h-7zM636 75h7v1h-7zM636 76h7v1h-7zM636 77h7v1h-7zM645 73h1v1h-1zM644 74h3v1h-3zM643 75h5v1h-5zM642 76h7v1h-7zM642 77h7v1h-7zM642 78h7v1h-7zM642 79h7v1h-7zM651 93h1v1h-1zM650 94h3v1h-3zM649 95h5v1h-5zM648 96h7v1h-7zM648 97h7v1h-7zM648 98h7v1h-7zM648 99h7v1h-7zM657 101h1v1h-1zM656 102h3v1h-3zM655 103h5v1h-5zM654 104h7v1h-7zM654 105h7v1h-7zM654 106h7v1h-7zM654 107h7v1h-7zM663 108h1v1h-1zM662 109h3v1h-3zM661 110h5v1h-5zM660 111h7v1h-7zM660 112h7v1h-7zM660 113h7v1h-7zM660 114h7v1h-7zM668 124h1v1h-1zM667 125h3v1h-3zM666 126h5v1h-5zM665 127h7v1h-7zM665 128h7v1h-7zM665 129h7v1h-7zM665 130h7v1h-7zM674 121h1v1h-1zM673 122h3v1h-3zM672 123h5v1h-5zM671 124h7v1h-7zM671 125h7v1h-7zM671 126h7v1h-7zM671 127h7v1h-7zM680 117h1v1h-1zM679 118h3v1h-3zM678 119h5v1h-5zM677 120h7v1h-7zM677 121h7v1h-7zM677 122h7v1h-7zM677 123h7v1h-7zM686 117h1v1h-1zM685 118h3v1h-3zM684 119h5v1h-5zM683 120h7v1h-7zM683 121h7v1h-7zM683 122h7v1h-7zM683 123h7v1h-7zM692 112h1v1h-1zM691 113h3v1h-3zM690 114h5v1h-5zM689 115h7v1h-7zM689 116h7v1h-7zM689 117h7v1h-7zM689 118h7v1h-7zM698 114h1v1h-1zM697 115h3v1h-3zM696 116h5v1h-5zM695 117h7v1h-7zM695 118h7v1h-7zM695 119h7v1h-7zM695 120h7v1h-7zM704 117h1v1h-1zM703 118h3v1h-3zM702 119h5v1h-5zM701 120h7v1h-7zM701 121h7v1h-7zM701 122h7v1h-7zM701 123h7v1h-7zM709 128h1v1h-1zM708 129h3v1h-3zM707 130h5v1h-5zM706 131h7v1h-7zM706 132h7v1h-7zM706 133h7v1h-7zM706 134h7v1h-7zM715 132h1v1h-1zM714 133h3v1h-3zM713 134h5v1h-5zM712 135h7v1h-7zM712 136h7v1h-7zM712 137h7v1h-7zM712 138h7v1h-7zM721 139h1v1h-1zM720 140h3v1h-3zM719 141h5v1h-5zM718 142h7v1h-7zM718 143h7v1h-7zM718 144h7v1h-7zM718 145h7v1h-7zM727 143h1v1h-1zM726 144h3v1h-3zM725 145h5v1h-5zM724 146h7v1h-7zM724 147h7v1h-7zM724 148h7v1h-7zM724 149h7v1h-7zM733 148h1v1h-1zM732 149h3v1h-3zM731 150h5v1h-5zM730 151h7v1h-7zM730 152h7v1h-7zM730 153h7v1h-7zM730 154h7v1h-7zM739 152h1v1h-1zM738 153h3v1h-3zM737 154h5v1h-5zM736 155h7v1h-7zM736 156h7v1h-7zM736 157h7v1h-7zM736 158h7v1h-7zM745 159h1v1h-1zM744 160h3v1h-3zM743 161h5v1h-5zM742 162h7v1h-7zM742 163h7v1h-7zM742 164h7v1h-7zM742 165h7v1h-7zM751 163h1v1h-1zM750 164h3v1h-3zM749 165h5v1h-5zM748 166h7v1h-7zM748 167h7v1h-7zM748 168h7v1h-7zM748 169h7v1h-7zM756 167h1v1h-1zM755 168h3v1h-3zM754 169h5v1h-5zM753 170h7v1h-7zM753 171h7v1h-7zM753 172h7v1h-7zM753 173h7v1h-7zM762 176h1v1h-1zM761 177h3v1h-3zM760 178h5v1h-5zM759 179h7v1h-7zM759 180h7v1h-7zM759 181h7v1h-7zM759 182h7v1h-7zM768 179h1v1h-1zM767 180h3v1h-3zM766 181h5v1h-5zM765 182h7v1h-7zM765 183h7v1h-7zM765 184h7v1h-7zM765 185h7v1h-7zM774 183h1v1h-1zM773 184h3v1h-3zM772 185h5v1h-5zM771 186h7v1h-7zM771 187h7v1h-7zM771 188h7v1h-7zM771 189h7v1h-7zM780 190h1v1h-1zM779 191h3v1h-3zM778 192h5v1h-5zM777 193h7v1h-7zM777 194h7v1h-7zM777 195h7v1h-7zM777 196h7v1h-7zM786 200h1v1h-1zM785 201h3v1h-3zM784 202h5v1h-5zM783 203h7v1h-7zM783 204h7v1h-7zM783 205h7v1h-7zM783 206h7v1h-7zM792 216h1v1h-1zM791 217h3v1h-3zM790 218h5v1h-5zM789 219h7v1h-7zM789 220h7v1h-7zM789 221h7v1h-7zM789 222h7v1h-7zM797 227h1v1h-1zM796 228h3v1h-3zM795 229h5v1h-5zM794 230h7v1h-7zM794 231h7v1h-7zM794 232h7v1h-7zM794 233h7v1h-7zM803 247h1v1h-1zM802 248h3v1h-3zM801 249h5v1h-5zM800 250h7v1h-7zM800 251h7v1h-7zM800 252h7v1h-7zM800 253h7v1h-7zM809 265h1v1h-1zM808 266h3v1h-3zM807 267h5v1h-5zM806 268h7v1h-7zM806 269h7v1h-7zM806 270h7v1h-7zM806 271h7v1h-7zM815 278h1v1h-1zM814 279h3v1h-3zM813 280h5v1h-5zM812 281h7v1h-7zM812 282h7v1h-7zM812 283h7v1h-7zM812 284h7v1h-7zM821 284h1v1h-1zM820 285h3v1h-3zM819 286h5v1h-5zM818 287h7v1h-7zM818 288h7v1h-7zM818 289h7v1h-7zM818 290h7v1h-7zM827 291h1v1h-1zM826 292h3v1h-3zM825 293h5v1h-5zM824 294h7v1h-7zM824 295h7v1h-7zM824 296h7v1h-7zM824 297h7v1h-7zM833 297h1v1h-1zM832 298h3v1h-3zM831 299h5v1h-5zM830 300h7v1h-7zM830 301h7v1h-7zM830 302h7v1h-7zM830 303h7v1h-7zM838 304h1v1h-1zM837 305h3v1h-3zM836 306h5v1h-5zM835 307h7v1h-7zM835 308h7v1h-7zM835 309h7v1h-7zM835 310h7v1h-7zM844 311h1v1h-1zM843 312h3v1h-3zM842 313h5v1h-5zM841 314h7v1h-7zM841 315h7v1h-7zM841 316h7v1h-7zM841 317h7v1h-7zM850 320h1v1h-1zM849 321h3v1h-3zM848 322h5v1h-5zM847 323h7v1h-7zM847 324h7v1h-7zM847 325h7v1h-7zM847 326h7v1h-7zM856 332h1v1h-1zM855 333h3v1h-3zM854 334h5v1h-5zM853 335h7v1h-7zM853 336h7v1h-7zM853 337h7v1h-7zM853 338h7v1h-7zM862 339h1v1h-1zM861 340h3v1h-3zM860 341h5v1h-5zM859 342h7v1h-7zM859 343h7v1h-7zM859 344h7v1h-7zM859 345h7v1h-7zM868 350h1v1h-1zM867 351h3v1h-3zM866 352h5v1h-5zM865 353h7v1h-7zM865 354h7v1h-7zM865 355h7v1h-7zM865 356h7v1h-7zM874 359h1v1h-1zM873 360h3v1h-3zM872 361h5v1h-5zM871 362h7v1h-7zM871 363h7v1h-7zM871 364h7v1h-7zM871 365h7v1h-7zM879 361h1v1h-1zM878 362h3v1h-3zM877 363h5v1h-5zM876 364h7v1h-7zM876 365h7v1h-7zM876 366h7v1h-7zM876 367h7v1h-7zM885 359h1v1h-1zM884 360h3v1h-3zM883 361h5v1h-5zM882 362h7v1h-7zM882 363h7v1h-7zM882 364h7v1h-7zM882 365h7v1h-7zM891 344h1v1h-1zM890 345h3v1h-3zM889 346h5v1h-5zM888 347h7v1h-7zM888 348h7v1h-7zM888 349h7v1h-7zM888 350h7v1h-7zM897 344h1v1h-1zM896 345h3v1h-3zM895 346h5v1h-5zM894 347h7v1h-7zM894 348h7v1h-7zM894 349h7v1h-7zM894 350h7v1h-7zM903 350h1v1h-1zM902 351h3v1h-3zM901 352h5v1h-5zM900 353h7v1h-7zM900 354h7v1h-7zM900 355h7v1h-7zM900 356h7v1h-7zM909 350h1v1h-1zM908 351h3v1h-3zM907 352h5v1h-5zM906 353h7v1h-7zM906 354h7v1h-7zM906 355h7v1h-7zM906 356h7v1h-7zM915 348h1v1h-1zM914 349h3v1h-3zM913 350h5v1h-5zM912 351h7v1h-7zM912 352h7v1h-7zM912 353h7v1h-7zM912 354h7v1h-7zM921 355h1v1h-1zM920 356h3v1h-3zM919 357h5v1h-5zM918 358h7v1h-7zM918 359h7v1h-7zM918 360h7v1h-7zM918 361h7v1h-7zM926 355h1v1h-1zM925 356h3v1h-3zM924 357h5v1h-5zM923 358h7v1h-7zM923 359h7v1h-7zM923 360h7v1h-7zM923 361h7v1h-7zM932 357h1v1h-1zM931 358h3v1h-3zM930 359h5v1h-5zM929 360h7v1h-7zM929 361h7v1h-7zM929 362h7v1h-7zM929 363h7v1h-7zM938 364h1v1h-1zM937 365h3v1h-3zM936 366h5v1h-5zM935 367h7v1h-7zM935 368h7v1h-7zM935 369h7v1h-7zM935 370h7v1h-7zM944 368h1v1h-1zM943 369h3v1h-3zM942 370h5v1h-5zM941 371h7v1h-7zM941 372h7v1h-7zM941 373h7v1h-7zM941 374h7v1h-7zM950 381h1v1h-1zM949 382h3v1h-3zM948 383h5v1h-5zM947 384h7v1h-7zM947 385h7v1h-7zM947 386h7v1h-7zM947 387h7v1h-7zM956 392h1v1h-1zM955 393h3v1h-3zM954 394h5v1h-5zM953 395h7v1h-7zM953 396h7v1h-7zM953 397h7v1h-7zM953 398h7v1h-7zM962 403h1v1h-1zM961 404h3v1h-3zM960 405h5v1h-5zM959 406h7v1h-7zM959 407h7v1h-7zM959 408h7v1h-7zM959 409h7v1h-7z"/>
<path fill="#ff0000" d="M47 345h1v1h-1zM47 344h2v1h-2zM45 343h5v1h-5zM45 342h5v1h-5zM45 341h5v1h-5zM44 340h7v1h-7zM44 339h7v1h-7zM53 345h1v1h-1zM53 344h2v1h-2zM51 343h5v1h-5zM51 342h5v1h-5zM51 341h5v1h-5zM50 340h7v1h-7zM50 339h7v1h-7zM59 345h1v1h-1zM59 344h2v1h-2zM57 343h5v1h-5zM57 342h5v1h-5zM57 341h5v1h-5zM56 340h7v1h-7zM56 339h7v1h-7zM65 345h1v1h-1zM65 344h2v1h-2zM63 343h5v1h-5zM63 342h5v1h-5zM63 341h5v1h-5zM62 340h7v1h-7zM62 339h7v1h-7zM70 381h1v1h-1zM70 380h2v1h-2zM68 379h5v1h-5zM68 378h5v1h-5zM68 377h5v1h-5zM67 376h7v1h-7zM67 375h7v1h-7zM76 381h1v1h-1zM76 380h2v1h-2zM74 379h5v1h-5zM74 378h5v1h-5zM74 377h5v1h-5zM73 376h7v1h-7zM73 375h7v1h-7zM82 381h1v1h-1zM82 380h2v1h-2zM80 379h5v1h-5zM80 378h5v1h-5zM80 377h5v1h-5zM79 376h7v1h-7zM79 375h7v1h-7zM88 381h1v1h-1zM88 380h2v1h-2zM86 379h5v1h-5zM86 378h5v1h-5zM86 377h5v1h-5zM85 376h7v1h-7zM85 375h7v1h-7zM94 381h1v1h-1zM94 380h2v1h-2zM92 379h5v1h-5zM92 378h5v1h-5zM92 377h5v1h-5zM91 376h7v1h-7zM91 375h7v1h-7zM100 381h1v1h-1zM100 380h2v1h-2zM98 379h5v1h-5zM98 378h5v1h-5zM98 377h5v1h-5zM97 376h7v1h-7zM97 375h7v1h-7zM106 381h1v1h-1zM106 380h2v1h-2zM104 379h5v1h-5zM104 378h5v1h-5zM104 377h5v1h-5zM103 376h7v1h-7zM103 375h7v1h-7zM111 381h1v1h-1zM111 380h2v1h-2zM109 379h5v1h-5zM109 378h5v1h-5zM109 377h5v1h-5zM108 376h7v1h-7zM108 375h7v1h-7zM117 381h1v1h-1zM117 380h2v1h-2zM115 379h5v1h-5zM115 378h5v1h-5zM115 377h5v1h-5zM114 376h7v1h-7zM114 375h7v1h-7zM123 381h1v1h-1zM123 380h2v1h-2zM121 379h5v1h-5zM121 378h5v1h-5zM121 377h5v1h-5zM120 376h7v1h-7zM120 375h7v1h-7zM129 381h1v1h-1zM129 380h2v1h-2zM127 379h5v1h-5zM127 378h5v1h-5zM127 377h5v1h-5zM126 376h7v1h-7zM126 375h7v1h-7zM135 381h1v1h-1zM135 380h2v1h-2zM133 379h5v1h-5zM133 378h5v1h-5zM133 377h5v1h-5zM132 376h7v1h-7zM132 375h7v1h-7zM141 381h1v1h-1zM141 380h2v1h-2zM139 379h5v1h-5zM139 378h5v1h-5zM139 377h5v1h-5zM138 376h7v1h-7zM138 375h7v1h-7zM147 381h1v1h-1zM147 380h2v1h-2zM145 379h5v1h-5zM145 378h5v1h-5zM145 377h5v1h-5zM144 376h7v1h-7zM144 375h7v1h-7zM153 381h1v1h-1zM153 380h2v1h-2zM151 379h5v1h-5zM151 378h5v1h-5zM151 377h5v1h-5zM150 376h7v1h-7zM150 375h7v1h-7zM158 381h1v1h-1zM158 380h2v1h-2zM156 379h5v1h-5zM156 378h5v1h-5zM156 377h5v1h-5zM155 376h7v1h-7zM155 375h7v1h-7zM164 381h1v1h-1zM164 380h2v1h-2zM162 379h5v1h-5zM162 378h5v1h-5zM162 377h5v1h-5zM161 376h7v1h-7zM161 375h7v1h-7zM170 381h1v1h-1zM170 380h2v1h-2zM168 379h5v1h-5zM168 378h5v1h-5zM168 377h5v1h-5zM167 376h7v1h-7zM167 375h7v1h-7zM176 381h1v1h-1zM176 380h2v1h-2zM174 379h5v1h-5zM174 378h5v1h-5zM174 377h5v1h-5zM173 376h7v1h-7zM173 375h7v1h-7zM182 381h1v1h-1zM182 380h2v1h-2zM180 379h5v1h-5zM180 378h5v1h-5zM180 377h5v1h-5zM179 376h7v1h-7zM179 375h7v1h-7zM188 381h1v1h-1zM188 380h2v1h-2zM186 379h5v1h-5zM186 378h5v1h-5zM186 377h5v1h-5zM185 376h7v1h-7zM185 375h7v1h-7zM194 381h1v1h-1zM194 380h2v1h-2zM192 379h5v1h-5zM192 378h5v1h-5zM192 377h5v1h-5zM191 376h7v1h-7zM191 375h7v1h-7zM199 381h1v1h-1zM199 380h2v1h-2zM197 379h5v1h-5zM197 378h5v1h-5zM197 377h5v1h-5zM196 376h7v1h-7zM196 375h7v1h-7zM205 381h1v1h-1zM205 380h2v1h-2zM203 379h5v1h-5zM203 378h5v1h-5zM203 377h5v1h-5zM202 376h7v1h-7zM202 375h7v1h-7zM211 381h1v1h-1zM211 380h2v1h-2zM209 379h5v1h-5zM209 378h5v1h-5zM209 377h5v1h-5zM208 376h7v1h-7zM208 375h7v1h-7zM217 381h1v1h-1zM217 380h2v1h-2zM215 379h5v1h-5zM215 378h5v1h-5zM215 377h5v1h-5zM214 376h7v1h-7zM214 375h7v1h-7zM223 381h1v1h-1zM223 380h2v1h-2zM221 379h5v1h-5zM221 378h5v1h-5zM221 377h5v1h-5zM220 376h7v1h-7zM220 375h7v1h-7zM229 381h1v1h-1zM229 380h2v1h-2zM227 379h5v1h-5zM227 378h5v1h-5zM227 377h5v1h-5zM226 376h7v1h-7zM226 375h7v1h-7zM235 381h1v1h-1zM235 380h2v1h-2zM233 379h5v1h-5zM233 378h5v1h-5zM233 377h5v1h-5zM232 376h7v1h-7zM232 375h7v1h-7zM240 381h1v1h-1zM240 380h2v1h-2zM238 379h5v1h-5zM238 378h5v1h-5zM238 377h5v1h-5zM237 376h7v1h-7zM237 375h7v1h-7zM246 381h1v1h-1zM246 380h2v1h-2zM244 379h5v1h-5zM244 378h5v1h-5zM244 377h5v1h-5zM243 376h7v1h-7zM243 375h7v1h-7zM252 381h1v1h-1zM252 380h2v1h-2zM250 379h5v1h-5zM250 378h5v1h-5zM250 377h5v1h-5zM249 376h7v1h-7zM249 375h7v1h-7zM258 381h1v1h-1zM258 380h2v1h-2zM256 379h5v1h-5zM256 378h5v1h-5zM256 377h5v1h-5zM255 376h7v1h-7zM255 375h7v1h-7zM264 381h1v1h-1zM264 380h2v1h-2zM262 379h5v1h-5zM262 378h5v1h-5zM262 377h5v1h-5zM261 376h7v1h-7zM261 375h7v1h-7zM270 381h1v1h-1zM270 380h2v1h-2zM268 379h5v1h-5zM268 378h5v1h-5zM268 377h5v1h-5zM267 376h7v1h-7zM267 375h7v1h-7zM276 381h1v1h-1zM276 380h2v1h-2zM274 379h5v1h-5zM274 378h5v1h-5zM274 377h5v1h-5zM273 376h7v1h-7zM273 375h7v1h-7zM282 381h1v1h-1zM282 380h2v1h-2zM280 379h5v1h-5zM280 378h5v1h-5zM280 377h5v1h-5zM279 376h7v1h-7zM279 375h7v1h-7zM287 381h1v1h-1zM287 380h2v1h-2zM285 379h5v1h-5zM285 378h5v1h-5zM285 377h5v1h-5zM284 376h7v1h-7zM284 375h7v1h-7zM293 381h1v1h-1zM293 380h2v1h-2zM291 379h5v1h-5zM291 378h5v1h-5zM291 377h5v1h-5zM290 376h7v1h-7zM290 375h7v1h-7zM299 381h1v1h-1zM299 380h2v1h-2zM297 379h5v1h-5zM297 378h5v1h-5zM297 377h5v1h-5zM296 376h7v1h-7zM296 375h7v1h-7zM305 381h1v1h-1zM305 380h2v1h-2zM303 379h5v1h-5zM303 378h5v1h-5zM303 377h5v1h-5zM302 376h7v1h-7zM302 375h7v1h-7zM311 381h1v1h-1zM311 380h2v1h-2zM309 379h5v1h-5zM309 378h5v1h-5zM309 377h5v1h-5zM308 376h7v1h-7zM308 375h7v1h-7zM317 381h1v1h-1zM317 380h2v1h-2zM315 379h5v1h-5zM315 378h5v1h-5zM315 377h5v1h-5zM314 376h7v1h-7zM314 375h7v1h-7zM323 381h1v1h-1zM323 380h2v1h-2zM321 379h5v1h-5zM321 378h5v1h-5zM321 377h5v1h-5zM320 376h7v1h-7zM320 375h7v1h-7zM328 381h1v1h-1zM328 380h2v1h-2zM326 379h5v1h-5zM326 378h5v1h-5zM326 377h5v1h-5zM325 376h7v1h-7zM325 375h7v1h-7zM334 381h1v1h-1zM334 380h2v1h-2zM332 379h5v1h-5zM332 378h5v1h-5zM332 377h5v1h-5zM331 376h7v1h-7zM331 375h7v1h-7zM340 381h1v1h-1zM340 380h2v1h-2zM338 379h5v1h-5zM338 378h5v1h-5zM338 377h5v1h-5zM337 376h7v1h-7zM337 375h7v1h-7zM346 381h1v1h-1zM346 380h2v1h-2zM344 379h5v1h-5zM344 378h5v1h-5zM344 377h5v1h-5zM343 376h7v1h-7zM343 375h7v1h-7zM352 381h1v1h-1zM352 380h2v1h-2zM350 379h5v1h-5zM350 378h5v1h-5zM350 377h5v1h-5zM349 376h7v1h-7zM349 375h7v1h-7zM358 381h1v1h-1zM358 380h2v1h-2zM356 379h5v1h-5zM356 378h5v1h-5zM356 377h5v1h-5zM355 376h7v1h-7zM355 375h7v1h-7zM364 381h1v1h-1zM364 380h2v1h-2zM362 379h5v1h-5zM362 378h5v1h-5zM362 377h5v1h-5zM361 376h7v1h-7zM361 375h7v1h-7zM369 345h1v1h-1zM369 344h2v1h-2zM367 343h5v1h-5zM367 342h5v1h-5zM367 341h5v1h-5zM366 340h7v1h-7zM366 339h7v1h-7zM375 345h1v1h-1zM375 344h2v1h-2zM373 343h5v1h-5zM373 342h5v1h-5zM373 341h5v1h-5zM372 340h7v1h-7zM372 339h7v1h-7zM381 345h1v1h-1zM381 344h2v1h-2zM379 343h5v1h-5zM379 342h5v1h-5zM379 341h5v1h-5zM378 340h7v1h-7zM378 339h7v1h-7zM387 345h1v1h-1zM387 344h2v1h-2zM385 343h5v1h-5zM385 342h5v1h-5zM385 341h5v1h-5zM384 340h7v1h-7zM384 339h7v1h-7zM393 345h1v1h-1zM393 344h2v1h-2zM391 343h5v1h-5zM391 342h5v1h-5zM391 341h5v1h-5zM390 340h7v1h-7zM390 339h7v1h-7zM399 345h1v1h-1zM399 344h2v1h-2zM397 343h5v1h-5zM397 342h5v1h-5zM397 341h5v1h-5zM396 340h7v1h-7zM396 339h7v1h-7zM405 345h1v1h-1zM405 344h2v1h-2zM403 343h5v1h-5zM403 342h5v1h-5zM403 341h5v1h-5zM402 340h7v1h-7zM402 339h7v1h-7zM410 345h1v1h-1zM410 344h2v1h-2zM408 343h5v1h-5zM408 342h5v1h-5zM408 341h5v1h-5zM407 340h7v1h-7zM407 339h7v1h-7zM416 345h1v1h-1zM416 344h2v1h-2zM414 343h5v1h-5zM414 342h5v1h-5zM414 341h5v1h-5zM413 340h7v1h-7zM413 339h7v1h-7zM422 310h1v1h-1zM422 309h2v1h-2zM420 308h5v1h-5zM420 307h5v1h-5zM420 306h5v1h-5zM419 305h7v1h-7zM419 304h7v1h-7zM428 310h1v1h-1zM428 309h2v1h-2zM426 308h5v1h-5zM426 307h5v1h-5zM426 306h5v1h-5zM425 305h7v1h-7zM425 304h7v1h-7zM434 310h1v1h-1zM434 309h2v1h-2zM432 308h5v1h-5zM432 307h5v1h-5zM432 306h5v1h-5zM431 305h7v1h-7zM431 304h7v1h-7zM440 310h1v1h-1zM440 309h2v1h-2zM438 308h5v1h-5zM438 307h5v1h-5zM438 306h5v1h-5zM437 305h7v1h-7zM437 304h7v1h-7zM446 310h1v1h-1zM446 309h2v1h-2zM444 308h5v1h-5zM444 307h5v1h-5zM444 306h5v1h-5zM443 305h7v1h-7zM443 304h7v1h-7zM452 345h1v1h-1zM452 344h2v1h-2zM450 343h5v1h-5zM450 342h5v1h-5zM450 341h5v1h-5zM449 340h7v1h-7zM449 339h7v1h-7zM457 345h1v1h-1zM457 344h2v1h-2zM455 343h5v1h-5zM455 342h5v1h-5zM455 341h5v1h-5zM454 340h7v1h-7zM454 339h7v1h-7zM463 345h1v1h-1zM463 344h2v1h-2zM461 343h5v1h-5zM461 342h5v1h-5zM461 341h5v1h-5zM460 340h7v1h-7zM460 339h7v1h-7zM469 345h1v1h-1zM469 344h2v1h-2zM467 343h5v1h-5zM467 342h5v1h-5zM467 341h5v1h-5zM466 340h7v1h-7zM466 339h7v1h-7zM475 345h1v1h-1zM475 344h2v1h-2zM473 343h5v1h-5zM473 342h5v1h-5zM473 341h5v1h-5zM472 340h7v1h-7zM472 339h7v1h-7zM481 345h1v1h-1zM481 344h2v1h-2zM479 343h5v1h-5zM479 342h5v1h-5zM479 341h5v1h-5zM478 340h7v1h-7zM478 339h7v1h-7zM487 345h1v1h-1zM487 344h2v1h-2zM485 343h5v1h-5zM485 342h5v1h-5zM485 341h5v1h-5zM484 340h7v1h-7zM484 339h7v1h-7zM493 345h1v1h-1zM493 344h2v1h-2zM491 343h5v1h-5zM491 342h5v1h-5zM491 341h5v1h-5zM490 340h7v1h-7zM490 339h7v1h-7zM498 345h1v1h-1zM498 344h2v1h-2zM496 343h5v1h-5zM496 342h5v1h-5zM496 341h5v1h-5zM495 340h7v1h-7zM495 339h7v1h-7zM504 345h1v1h-1zM504 344h2v1h-2zM502 343h5v1h-5zM502 342h5v1h-5zM502 341h5v1h-5zM501 340h7v1h-7zM501 339h7v1h-7zM510 345h1v1h-1zM510 344h2v1h-2zM508 343h5v1h-5zM508 342h5v1h-5zM508 341h5v1h-5zM507 340h7v1h-7zM507 339h7v1h-7zM516 345h1v1h-1zM516 344h2v1h-2zM514 343h5v1h-5zM514 342h5v1h-5zM514 341h5v1h-5zM513 340h7v1h-7zM513 339h7v1h-7zM522 345h1v1h-1zM522 344h2v1h-2zM520 343h5v1h-5zM520 342h5v1h-5zM520 341h5v1h-5zM519 340h7v1h-7zM519 339h7v1h-7zM528 345h1v1h-1zM528 344h2v1h-2zM526 343h5v1h-5zM526 342h5v1h-5zM526 341h5v1h-5zM525 340h7v1h-7zM525 339h7v1h-7zM534 345h1v1h-1zM534 344h2v1h-2zM532 343h5v1h-5zM532 342h5v1h-5zM532 341h5v1h-5zM531 340h7v1h-7zM531 339h7v1h-7zM539 345h1v1h-1zM539 344h2v1h-2zM537 343h5v1h-5zM537 342h5v1h-5zM537 341h5v1h-5zM536 340h7v1h-7zM536 339h7v1h-7zM545 345h1v1h-1zM545 344h2v1h-2zM543 343h5v1h-5zM543 342h5v1h-5zM543 341h5v1h-5zM542 340h7v1h-7zM542 339h7v1h-7zM551 345h1v1h-1zM551 344h2v1h-2zM549 343h5v1h-5zM549 342h5v1h-5zM549 341h5v1h-5zM548 340h7v1h-7zM548 339h7v1h-7zM557 345h1v1h-1zM557 344h2v1h-2zM555 343h5v1h-5zM555 342h5v1h-5zM555 341h5v1h-5zM554 340h7v1h-7zM554 339h7v1h-7zM563 345h1v1h-1zM563 344h2v1h-2zM561 343h5v1h-5zM561 342h5v1h-5zM561 341h5v1h-5zM560 340h7v1h-7zM560 339h7v1h-7zM569 345h1v1h-1zM569 344h2v1h-2zM567 343h5v1h-5zM567 342h5v1h-5zM567 341h5v1h-5zM566 340h7v1h-7zM566 339h7v1h-7zM575 345h1v1h-1zM575 344h2v1h-2zM573 343h5v1h-5zM573 342h5v1h-5zM573 341h5v1h-5zM572 340h7v1h-7zM572 339h7v1h-7zM580 345h1v1h-1zM580 344h2v1h-2zM578 343h5v1h-5zM578 342h5v1h-5zM578 341h5v1h-5zM577 340h7v1h-7zM577 339h7v1h-7zM586 345h1v1h-1zM586 344h2v1h-2zM584 343h5v1h-5zM584 342h5v1h-5zM584 341h5v1h-5zM583 340h7v1h-7zM583 339h7v1h-7zM592 345h1v1h-1zM592 344h2v1h-2zM590 343h5v1h-5zM590 342h5v1h-5zM590 341h5v1h-5zM589 340h7v1h-7zM589 339h7v1h-7zM598 345h1v1h-1zM598 344h2v1h-2zM596 343h5v1h-5zM596 342h5v1h-5zM596 341h5v1h-5zM595 340h7v1h-7zM595 339h7v1h-7zM604 345h1v1h-1zM604 344h2v1h-2zM602 343h5v1h-5zM602 342h5v1h-5zM602 341h5v1h-5zM601 340h7v1h-7zM601 339h7v1h-7zM610 345h1v1h-1zM610 344h2v1h-2zM608 343h5v1h-5zM608 342h5v1h-5zM608 341h5v1h-5zM607 340h7v1h-7zM607 339h7v1h-7zM616 345h1v1h-1zM616 344h2v1h-2zM614 343h5v1h-5zM614 342h5v1h-5zM614 341h5v1h-5zM613 340h7v1h-7zM613 339h7v1h-7zM622 345h1v1h-1zM622 344h2v1h-2zM620 343h5v1h-5zM620 342h5v1h-5zM620 341h5v1h-5zM619 340h7v1h-7zM619 339h7v1h-7zM627 345h1v1h-1zM627 344h2v1h-2zM625 343h5v1h-5zM625 342h5v1h-5zM625 341h5v1h-5zM624 340h7v1h-7zM624 339h7v1h-7zM633 345h1v1h-1zM633 344h2v1h-2zM631 343h5v1h-5zM631 342h5v1h-5zM631 341h5v1h-5zM630 340h7v1h-7zM630 339h7v1h-7zM639 345h1v1h-1zM639 344h2v1h-2zM637 343h5v1h-5zM637 342h5v1h-5zM637 341h5v1h-5zM636 340h7v1h-7zM636 339h7v1h-7zM645 345h1v1h-1zM645 344h2v1h-2zM643 343h5v1h-5zM643 342h5v1h-5zM643 341h5v1h-5zM642 340h7v1h-7zM642 339h7v1h-7zM651 345h1v1h-1zM651 344h2v1h-2zM649 343h5v1h-5zM649 342h5v1h-5zM649 341h5v1h-5zM648 340h7v1h-7zM648 339h7v1h-7zM657 345h1v1h-1zM657 344h2v1h-2zM655 343h5v1h-5zM655 342h5v1h-5zM655 341h5v1h-5zM654 340h7v1h-7zM654 339h7v1h-7zM663 345h1v1h-1zM663 344h2v1h-2zM661 343h5v1h-5zM661 342h5v1h-5zM661 341h5v1h-5zM660 340h7v1h-7zM660 339h7v1h-7zM668 345h1v1h-1zM668 344h2v1h-2zM666 343h5v1h-5zM666 342h5v1h-5zM666 341h5v1h-5zM665 340h7v1h-7zM665 339h7v1h-7zM674 345h1v1h-1zM674 344h2v1h-2zM672 343h5v1h-5zM672 342h5v1h-5zM672 341h5v1h-5zM671 340h7v1h-7zM671 339h7v1h-7zM680 345h1v1h-1zM680 344h2v1h-2zM678 343h5v1h-5zM678 342h5v1h-5zM678 341h5v1h-5zM677 340h7v1h-7zM677 339h7v1h-7zM686 345h1v1h-1zM686 344h2v1h-2zM684 343h5v1h-5zM684 342h5v1h-5zM684 341h5v1h-5zM683 340h7v1h-7zM683 339h7v1h-7zM692 345h1v1h-1zM692 344h2v1h-2zM690 343h5v1h-5zM690 342h5v1h-5zM690 341h5v1h-5zM689 340h7v1h-7zM689 339h7v1h-7zM698 345h1v1h-1zM698 344h2v1h-2zM696 343h5v1h-5zM696 342h5v1h-5zM696 341h5v1h-5zM695 340h7v1h-7zM695 339h7v1h-7zM704 345h1v1h-1zM704 344h2v1h-2zM702 343h5v1h-5zM702 342h5v1h-5zM702 341h5v1h-5zM701 340h7v1h-7zM701 339h7v1h-7zM709 345h1v1h-1zM709 344h2v1h-2zM707 343h5v1h-5zM707 342h5v1h-5zM707 341h5v1h-5zM706 340h7v1h-7zM706 339h7v1h-7zM715 345h1v1h-1zM715 344h2v1h-2zM713 343h5v1h-5zM713 342h5v1h-5zM713 341h5v1h-5zM712 340h7v1h-7zM712 339h7v1h-7zM721 345h1v1h-1zM721 344h2v1h-2zM719 343h5v1h-5zM719 342h5v1h-5zM719 341h5v1h-5zM718 340h7v1h-7zM718 339h7v1h-7zM727 345h1v1h-1zM727 344h2v1h-2zM725 343h5v1h-5zM725 342h5v1h-5zM725 341h5v1h-5zM724 340h7v1h-7zM724 339h7v1h-7zM733 345h1v1h-1zM733 344h2v1h-2zM731 343h5v1h-5zM731 342h5v1h-5zM731 341h5v1h-5zM730 340h7v1h-7zM730 339h7v1h-7zM739 345h1v1h-1zM739 344h2v1h-2zM737 343h5v1h-5zM737 342h5v1h-5zM737 341h5v1h-5zM736 340h7v1h-7zM736 339h7v1h-7zM745 345h1v1h-1zM745 344h2v1h-2zM743 343h5v1h-5zM743 342h5v1h-5zM743 341h5v1h-5zM742 340h7v1h-7zM742 339h7v1h-7zM751 345h1v1h-1zM751 344h2v1h-2zM749 343h5v1h-5zM749 342h5v1h-5zM749 341h5v1h-5zM748 340h7v1h-7zM748 339h7v1h-7zM756 345h1v1h-1zM756 344h2v1h-2zM754 343h5v1h-5zM754 342h5v1h-5zM754 341h5v1h-5zM753 340h7v1h-7zM753 339h7v1h-7zM762 345h1v1h-1zM762 344h2v1h-2zM760 343h5v1h-5zM760 342h5v1h-5zM760 341h5v1h-5zM759 340h7v1h-7zM759 339h7v1h-7zM768 345h1v1h-1zM768 344h2v1h-2zM766 343h5v1h-5zM766 342h5v1h-5zM766 341h5v1h-5zM765 340h7v1h-7zM765 339h7v1h-7zM774 345h1v1h-1zM774 344h2v1h-2zM772 343h5v1h-5zM772 342h5v1h-5zM772 341h5v1h-5zM771 340h7v1h-7zM771 339h7v1h-7zM780 345h1v1h-1zM780 344h2v1h-2zM778 343h5v1h-5zM778 342h5v1h-5zM778 341h5v1h-5zM777 340h7v1h-7zM777 339h7v1h-7zM786 345h1v1h-1zM786 344h2v1h-2zM784 343h5v1h-5zM784 342h5v1h-5zM784 341h5v1h-5zM783 340h7v1h-7zM783 339h7v1h-7zM792 345h1v1h-1zM792 344h2v1h-2zM790 343h5v1h-5zM790 342h5v1h-5zM790 341h5v1h-5zM789 340h7v1h-7zM789 339h7v1h-7zM797 345h1v1h-1zM797 344h2v1h-2zM795 343h5v1h-5zM795 342h5v1h-5zM795 341h5v1h-5zM794 340h7v1h-7zM794 339h7v1h-7zM803 345h1v1h-1zM803 344h2v1h-2zM801 343h5v1h-5zM801 342h5v1h-5zM801 341h5v1h-5zM800 340h7v1h-7zM800 339h7v1h-7zM809 345h1v1h-1zM809 344h2v1h-2zM807 343h5v1h-5zM807 342h5v1h-5zM807 341h5v1h-5zM806 340h7v1h-7zM806 339h7v1h-7zM815 345h1v1h-1zM815 344h2v1h-2zM813 343h5v1h-5zM813 342h5v1h-5zM813 341h5v1h-5zM812 340h7v1h-7zM812 339h7v1h-7zM821 345h1v1h-1zM821 344h2v1h-2zM819 343h5v1h-5zM819 342h5v1h-5zM819 341h5v1h-5zM818 340h7v1h-7zM818 339h7v1h-7zM827 345h1v1h-1zM827 344h2v1h-2zM825 343h5v1h-5zM825 342h5v1h-5zM825 341h5v1h-5zM824 340h7v1h-7zM824 339h7v1h-7zM833 345h1v1h-1zM833 344h2v1h-2zM831 343h5v1h-5zM831 342h5v1h-5zM831 341h5v1h-5zM830 340h7v1h-7zM830 339h7v1h-7zM838 345h1v1h-1zM838 344h2v1h-2zM836 343h5v1h-5zM836 342h5v1h-5zM836 341h5v1h-5zM835 340h7v1h-7zM835 339h7v1h-7zM844 345h1v1h-1zM844 344h2v1h-2zM842 343h5v1h-5zM842 342h5v1h-5zM842 341h5v1h-5zM841 340h7v1h-7zM841 339h7v1h-7zM850 345h1v1h-1zM850 344h2v1h-2zM848 343h5v1h-5zM848 342h5v1h-5zM848 341h5v1h-5zM847 340h7v1h-7zM847 339h7v1h-7zM856 345h1v1h-1zM856 344h2v1h-2zM854 343h5v1h-5zM854 342h5v1h-5zM854 341h5v1h-5zM853 340h7v1h-7zM853 339h7v1h-7zM862 345h1v1h-1zM862 344h2v1h-2zM860 343h5v1h-5zM860 342h5v1h-5zM860 341h5v1h-5zM859 340h7v1h-7zM859 339h7v1h-7zM868 345h1v1h-1zM868 344h2v1h-2zM866 343h5v1h-5zM866 342h5v1h-5zM866 341h5v1h-5zM865 340h7v1h-7zM865 339h7v1h-7zM874 345h1v1h-1zM874 344h2v1h-2zM872 343h5v1h-5zM872 342h5v1h-5zM872 341h5v1h-5zM871 340h7v1h-7zM871 339h7v1h-7zM879 345h1v1h-1zM879 344h2v1h-2zM877 343h5v1h-5zM877 342h5v1h-5zM877 341h5v1h-5zM876 340h7v1h-7zM876 339h7v1h-7zM885 345h1v1h-1zM885 344h2v1h-2zM883 343h5v1h-5zM883 342h5v1h-5zM883 341h5v1h-5zM882 340h7v1h-7zM882 339h7v1h-7zM891 345h1v1h-1zM891 344h2v1h-2zM889 343h5v1h-5zM889 342h5v1h-5zM889 341h5v1h-5zM888 340h7v1h-7zM888 339h7v1h-7zM897 345h1v1h-1zM897 344h2v1h-2zM895 343h5v1h-5zM895 342h5v1h-5zM895 341h5v1h-5zM894 340h7v1h-7zM894 339h7v1h-7zM903 345h1v1h-1zM903 344h2v1h-2zM901 343h5v1h-5zM901 342h5v1h-5zM901 341h5v1h-5zM900 340h7v1h-7zM900 339h7v1h-7zM909 345h1v1h-1zM909 344h2v1h-2zM907 343h5v1h-5zM907 342h5v1h-5zM907 341h5v1h-5zM906 340h7v1h-7zM906 339h7v1h-7zM915 381h1v1h-1zM915 380h2v1h-2zM913 379h5v1h-5zM913 378h5v1h-5zM913 377h5v1h-5zM912 376h7v1h-7zM912 375h7v1h-7zM921 381h1v1h-1zM921 380h2v1h-2zM919 379h5v1h-5zM919 378h5v1h-5zM919 377h5v1h-5zM918 376h7v1h-7zM918 375h7v1h-7zM926 381h1v1h-1zM926 380h2v1h-2zM924 379h5v1h-5zM924 378h5v1h-5zM924 377h5v1h-5zM923 376h7v1h-7zM923 375h7v1h-7zM932 381h1v1h-1zM932 380h2v1h-2zM930 379h5v1h-5zM930 378h5v1h-5zM930 377h5v1h-5zM929 376h7v1h-7zM929 375h7v1h-7zM938 381h1v1h-1zM938 380h2v1h-2zM936 379h5v1h-5zM936 378h5v1h-5zM936 377h5v1h-5zM935 376h7v1h-7zM935 375h7v1h-7zM944 381h1v1h-1zM944 380h2v1h-2zM942 379h5v1h-5zM942 378h5v1h-5zM942 377h5v1h-5zM941 376h7v1h-7zM941 375h7v1h-7zM950 381h1v1h-1zM950 380h2v1h-2zM948 379h5v1h-5zM948 378h5v1h-5zM948 377h5v1h-5zM947 376h7v1h-7zM947 375h7v1h-7zM956 381h1v1h-1zM956 380h2v1h-2zM954 379h5v1h-5zM954 378h5v1h-5zM954 377h5v1h-5zM953 376h7v1h-7zM953 375h7v1h-7zM962 381h1v1h-1zM962 380h2v1h-2zM960 379h5v1h-5zM960 378h5v1h-5zM960 377h5v1h-5zM959 376h7v1h-7zM959 375h7v1h-7z"/>
<path fill="#000" d="M47 25h1v535h-1zM985 25h1v535h-1z"/>
<rect x="704.5" y="20.5" width="84" height="98" fill="#fff" stroke="#000"/>
<rect x="776.5" y="27.5" width="6" height="15" fill="#87ceeb" stroke="#000"/>
<text x="769.3" y="40" text-anchor="end" class="sm" textLength="54" lengthAdjust="spacingAndGlyphs">Lounge-20</text>
<rect x="776.5" y="44.5" width="6" height="15" fill="#00ff00" stroke="#000"/>
<text x="769.3" y="57" text-anchor="end" class="sm" textLength="42" lengthAdjust="spacingAndGlyphs">Hall-20</text>
<rect x="776.5" y="61.5" width="6" height="15" fill="#ffa500" stroke="#000"/>
<text x="769.3" y="74" text-anchor="end" class="sm" textLength="54" lengthAdjust="spacingAndGlyphs">Dining-20</text>
<rect x="776.5" y="78.5" width="6" height="15" fill="#0000ff" stroke="#000"/>
<text x="769.3" y="91" text-anchor="end" class="sm" textLength="60" lengthAdjust="spacingAndGlyphs">Outside-10</text>
<rect x="776.5" y="95.5" width="6" height="15" fill="#ff0000" stroke="#000"/>
<text x="769.3" y="108" text-anchor="end" class="sm" textLength="24" lengthAdjust="spacingAndGlyphs">Heat</text>
<text x="36.5" y="559" text-anchor="end" class="mb" textLength="14" lengthAdjust="spacingAndGlyphs">-5</text>
<text x="36.5" y="524" text-anchor="end" class="mb" textLength="14" lengthAdjust="spacingAndGlyphs">-4</text>
<text x="36.5" y="488" text-anchor="end" class="mb" textLength="14" lengthAdjust="spacingAndGlyphs">-3</text>
<text x="36.5" y="453" text-anchor="end" class="mb" textLength="14" lengthAdjust="spacingAndGlyphs">-2</text>
<text x="36.5" y="418" text-anchor="end" class="mb" textLength="14" lengthAdjust="spacingAndGlyphs">-1</text>
<text x="36.5" y="383" text-anchor="end" class="mb" textLength="7" lengthAdjust="spacingAndGlyphs">0</text>
<text x="36.5" y="347" text-anchor="end" class="mb" textLength="7" lengthAdjust="spacingAndGlyphs">1</text>
<text x="36.5" y="312" text-anchor="end" class="mb" textLength="7" lengthAdjust="spacingAndGlyphs">2</text>
<text x="36.5" y="277" text-anchor="end" class="mb" textLength="7" lengthAdjust="spacingAndGlyphs">3</text>
<text x="36.5" y="242" text-anchor="end" class="mb" textLength="7" lengthAdjust="spacingAndGlyphs">4</text>
<text x="36.5" y="206" text-anchor="end" class="mb" textLength="7" lengthAdjust="spacingAndGlyphs">5</text>
<text x="36.5" y="171" text-anchor="end" class="mb" textLength="7" lengthAdjust="spacingAndGlyphs">6</text>
<text x="36.5" y="136" text-anchor="end" class="mb" textLength="7" lengthAdjust="spacingAndGlyphs">7</text>
<text x="36.5" y="101" text-anchor="end" class="mb" textLength="7" lengthAdjust="spacingAndGlyphs">8</text>
<text x="36.5" y="65" text-anchor="end" class="mb" textLength="7" lengthAdjust="spacingAndGlyphs">9</text>
<text x="36.5" y="30" text-anchor="end" class="mb" textLength="14" lengthAdjust="spacingAndGlyphs">10</text>
<text x="46.8" y="575" text-anchor="middle" class="mb" textLength="7" lengthAdjust="spacingAndGlyphs">0</text>
<text x="105.8" y="575" text-anchor="middle" class="mb" textLength="14" lengthAdjust="spacingAndGlyphs">10</text>
<text x="163.8" y="575" text-anchor="middle" class="mb" textLength="14" lengthAdjust="spacingAndGlyphs">20</text>
<text x="222.8" y="575" text-anchor="middle" class="mb" textLength="14" lengthAdjust="spacingAndGlyphs">30</text>
<text x="281.8" y="575" text-anchor="middle" class="mb" textLength="14" lengthAdjust="spacingAndGlyphs">40</text>
<text x="339.8" y="575" text-anchor="middle" class="mb" textLength="14" lengthAdjust="spacingAndGlyphs">50</text>
<text x="398.8" y="575" text-anchor="middle" class="mb" textLength="14" lengthAdjust="spacingAndGlyphs">60</text>
<text x="456.8" y="575" text-anchor="middle" class="mb" textLength="14" lengthAdjust="spacingAndGlyphs">70</text>
<text x="515.8" y="575" text-anchor="middle" class="mb" textLength="14" lengthAdjust="spacingAndGlyphs">80</text>
<text x="574.8" y="575" text-anchor="middle" class="mb" textLength="14" lengthAdjust="spacingAndGlyphs">90</text>
<text x="632.8" y="575" text-anchor="middle" class="mb" textLength="21" lengthAdjust="spacingAndGlyphs">100</text>
<text x="691.8" y="575" text-anchor="middle" class="mb" textLength="21" lengthAdjust="spacingAndGlyphs">110</text>
<text x="750.8" y="575" text-anchor="middle" class="mb" textLength="21" lengthAdjust="spacingAndGlyphs">120</text>
<text x="808.8" y="575" text-anchor="middle" class="mb" textLength="21" lengthAdjust="spacingAndGlyphs">130</text>
<text x="867.8" y="575" text-anchor="middle" class="mb" textLength="21" lengthAdjust="spacingAndGlyphs">140</text>
<text x="925.8" y="575" text-anchor="middle" class="mb" textLength="21" lengthAdjust="spacingAndGlyphs">150</text>
<text x="984.8" y="575" text-anchor="middle" class="mb" textLength="21" lengthAdjust="spacingAndGlyphs">160</text>
<text x="515.6" y="593" text-anchor="middle" class="mb" textLength="336" lengthAdjust="spacingAndGlyphs">Start Date 2025-10-07 21:50, 1 day (10 min/step)</text>
<text x="499.3" y="17.7" text-anchor="middle" class="gi" textLength="144" lengthAdjust="spacingAndGlyphs">Heating in Essex</text>
<text transform="translate(16.4,290) rotate(-90)" text-anchor="middle" class="mb" textLength="49" lengthAdjust="spacingAndGlyphs">Degrees</text>
</svg>
</body></html>
